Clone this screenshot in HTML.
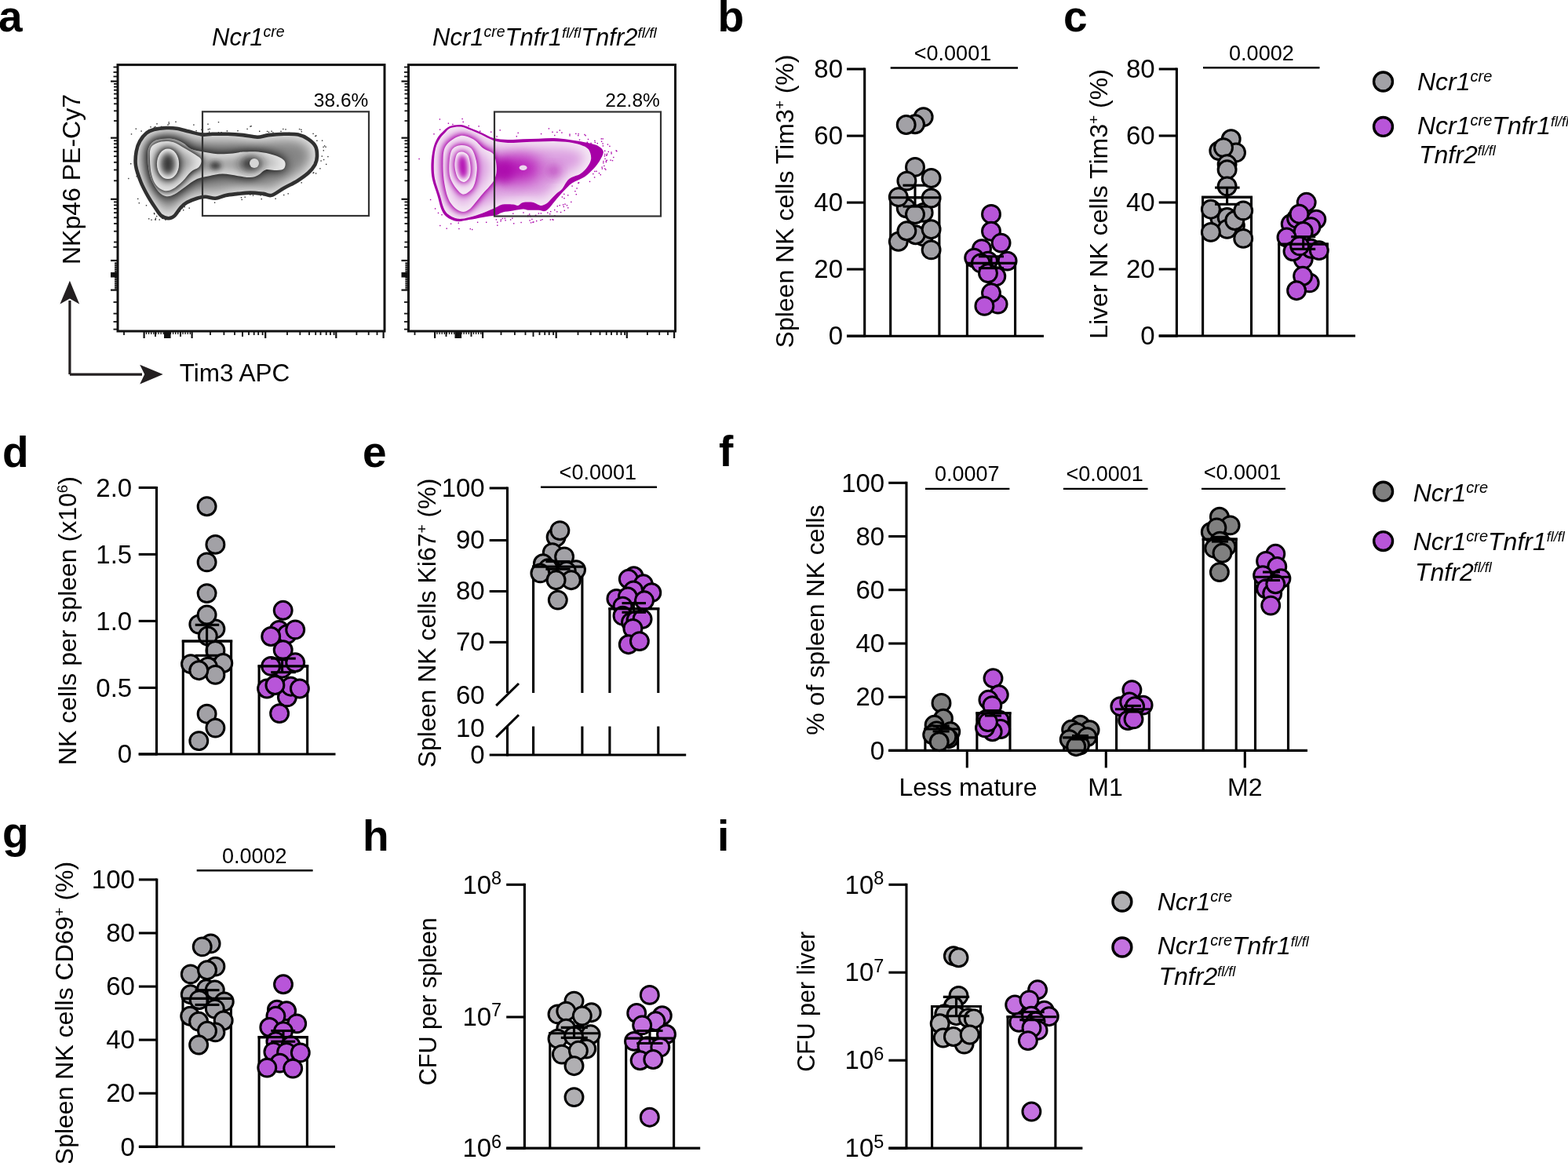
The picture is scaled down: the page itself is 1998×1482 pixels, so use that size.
<!DOCTYPE html>
<html><head><meta charset="utf-8"><title>Figure</title>
<style>
html,body{margin:0;padding:0;background:#fff;}
body{width:1998px;height:1482px;overflow:hidden;}
svg{display:block;}
text{font-family:"Liberation Sans",Arial,Helvetica,sans-serif;fill:#000;}
</style></head><body>
<svg width="1998" height="1482" viewBox="0 0 1998 1482">
<rect width="1998" height="1482" fill="#fff"/>
<defs>
<filter id="gbase" x="-10%" y="-10%" width="120%" height="120%" color-interpolation-filters="sRGB"><feGaussianBlur in="SourceAlpha" stdDeviation="10"/><feComponentTransfer><feFuncA type="gamma" amplitude="1" exponent="2.6" offset="0"/></feComponentTransfer><feColorMatrix type="matrix" values="0 0 0 -0.3952 0.9152  0 0 0 -0.3952 0.9152  0 0 0 -0.3952 0.9152  0 0 0 0 1"/><feComposite in2="SourceAlpha" operator="in"/></filter>
<filter id="gcore" x="-10%" y="-10%" width="120%" height="120%" color-interpolation-filters="sRGB"><feGaussianBlur in="SourceAlpha" stdDeviation="6"/><feComponentTransfer><feFuncA type="gamma" amplitude="1" exponent="2.5" offset="0"/></feComponentTransfer><feColorMatrix type="matrix" values="0 0 0 -0.7774 0.9974  0 0 0 -0.7774 0.9974  0 0 0 -0.7774 0.9974  0 0 0 0 1"/><feComposite in2="SourceAlpha" operator="in"/></filter>
<filter id="pbase" x="-10%" y="-10%" width="120%" height="120%" color-interpolation-filters="sRGB"><feGaussianBlur in="SourceAlpha" stdDeviation="10"/><feComponentTransfer><feFuncA type="gamma" amplitude="1" exponent="3" offset="0"/></feComponentTransfer><feColorMatrix type="matrix" values="0 0 0 -0.1029 0.9629  0 0 0 -0.2971 0.9171  0 0 0 -0.0800 0.9600  0 0 0 0 1"/><feComposite in2="SourceAlpha" operator="in"/></filter>
<filter id="pcore" x="-10%" y="-10%" width="120%" height="120%" color-interpolation-filters="sRGB"><feGaussianBlur in="SourceAlpha" stdDeviation="5"/><feComponentTransfer><feFuncA type="gamma" amplitude="1" exponent="2.5" offset="0"/></feComponentTransfer><feColorMatrix type="matrix" values="0 0 0 -0.3037 1.0037  0 0 0 -1.0082 1.0582  0 0 0 -0.3037 1.0037  0 0 0 0 1"/><feComposite in2="SourceAlpha" operator="in"/></filter>
<filter id="ghalo" x="-30%" y="-30%" width="160%" height="160%" color-interpolation-filters="sRGB"><feGaussianBlur in="SourceAlpha" stdDeviation="7"/><feComponentTransfer><feFuncA type="linear" slope="1.8" intercept="0"/></feComponentTransfer><feColorMatrix type="matrix" values="0 0 0 0 0.17  0 0 0 0 0.17  0 0 0 0 0.17  0 0 0 0.95 0"/></filter>
<filter id="ghalo2" x="-30%" y="-30%" width="160%" height="160%" color-interpolation-filters="sRGB"><feGaussianBlur in="SourceAlpha" stdDeviation="5"/><feComponentTransfer><feFuncA type="linear" slope="1.8" intercept="0"/></feComponentTransfer><feColorMatrix type="matrix" values="0 0 0 0 0.18  0 0 0 0 0.18  0 0 0 0 0.18  0 0 0 0.92 0"/></filter>
<filter id="phalo" x="-30%" y="-30%" width="160%" height="160%" color-interpolation-filters="sRGB"><feGaussianBlur in="SourceAlpha" stdDeviation="5"/><feComponentTransfer><feFuncA type="linear" slope="1.7" intercept="0"/></feComponentTransfer><feColorMatrix type="matrix" values="0 0 0 0 0.66  0 0 0 0 0.0  0 0 0 0 0.66  0 0 0 0.95 0"/></filter>
<filter id="phalo2" x="-30%" y="-30%" width="160%" height="160%" color-interpolation-filters="sRGB"><feGaussianBlur in="SourceAlpha" stdDeviation="4"/><feComponentTransfer><feFuncA type="linear" slope="1.6" intercept="0"/></feComponentTransfer><feColorMatrix type="matrix" values="0 0 0 0 0.66  0 0 0 0 0.0  0 0 0 0 0.66  0 0 0 0.9 0"/></filter>
<filter id="bl6" x="-50%" y="-50%" width="200%" height="200%"><feGaussianBlur stdDeviation="6"/></filter>
<filter id="bl10" x="-50%" y="-50%" width="200%" height="200%"><feGaussianBlur stdDeviation="10"/></filter>
<filter id="bl3" x="-50%" y="-50%" width="200%" height="200%"><feGaussianBlur stdDeviation="3"/></filter>
</defs>
<clipPath id="cO1"><path d="M186.7,169.5 C189.7,167.0 192.2,166.0 196.4,165.0 C200.7,163.9 207.3,163.2 212.0,163.0 C216.8,162.8 220.3,162.9 225.1,163.7 C229.8,164.4 235.3,166.3 240.7,167.6 C246.1,168.9 252.6,170.9 257.6,171.5 C262.6,172.0 265.2,170.9 270.6,170.8 C276.0,170.7 283.6,170.6 290.1,170.8 C296.6,171.0 303.4,171.5 309.6,172.1 C315.9,172.8 322.4,174.7 327.9,174.7 C333.3,174.7 336.5,172.8 342.2,172.1 C347.8,171.5 355.4,170.9 361.7,170.8 C368.0,170.7 374.7,170.4 379.9,171.5 C385.1,172.6 389.2,174.8 392.9,177.3 C396.6,179.8 400.2,182.7 402.0,186.4 C403.9,190.1 404.1,195.5 404.0,199.4 C403.9,203.4 403.2,206.4 401.4,209.9 C399.5,213.3 396.7,216.8 392.9,220.3 C389.1,223.7 383.8,227.4 378.6,230.7 C373.4,233.9 367.1,236.7 361.7,239.8 C356.3,242.8 350.4,247.7 346.1,248.9 C341.7,250.1 340.2,247.5 335.7,246.9 C331.1,246.4 324.2,245.6 318.8,245.6 C313.3,245.6 308.3,246.4 303.1,246.9 C297.9,247.5 292.3,247.9 287.5,248.9 C282.7,249.9 278.8,252.5 274.5,252.8 C270.2,253.1 265.4,250.8 261.5,250.8 C257.6,250.8 255.0,251.6 251.1,252.8 C247.2,254.0 241.5,256.1 238.1,258.0 C234.6,260.0 232.9,261.7 230.3,264.5 C227.7,267.3 225.1,272.6 222.5,274.9 C219.9,277.2 217.5,278.2 214.7,278.2 C211.8,278.2 208.4,277.2 205.5,274.9 C202.7,272.6 200.6,268.6 197.7,264.5 C194.9,260.4 191.7,255.6 188.6,250.2 C185.6,244.8 182.1,238.5 179.5,232.0 C176.9,225.5 174.0,217.7 173.0,211.2 C172.0,204.7 172.8,198.1 173.7,192.9 C174.5,187.7 176.0,183.8 178.2,179.9 C180.4,176.0 183.6,172.0 186.7,169.5Z"/></clipPath><clipPath id="cL2"><path d="M189.3,189.0 C191.0,184.0 194.2,180.7 199.0,178.6 C203.9,176.6 212.9,176.1 218.6,176.7 C224.2,177.2 228.7,179.7 232.9,181.9 C237.0,184.0 238.9,187.7 243.3,189.7 C247.6,191.6 253.3,192.5 258.9,193.6 C264.5,194.7 270.8,195.9 277.1,196.2 C283.4,196.5 291.2,196.0 296.6,195.5 C302.1,195.1 304.2,193.9 309.6,193.6 C315.1,193.3 322.7,192.9 329.2,193.6 C335.7,194.2 343.4,195.9 348.7,197.5 C354.0,199.1 358.5,201.3 361.0,203.4 C363.5,205.4 363.8,207.8 363.6,209.9 C363.5,211.9 362.7,214.5 360.4,215.7 C358.1,216.9 353.7,216.9 350.0,217.0 C346.3,217.1 341.7,215.4 338.3,216.4 C334.8,217.3 332.4,221.2 329.2,222.9 C325.9,224.5 323.1,225.9 318.8,226.1 C314.4,226.3 309.0,224.9 303.1,224.2 C297.3,223.4 289.7,221.6 283.6,221.6 C277.5,221.6 272.1,223.1 266.7,224.2 C261.3,225.3 256.3,225.7 251.1,228.1 C245.9,230.5 240.2,235.2 235.5,238.5 C230.7,241.7 226.4,245.6 222.5,247.6 C218.6,249.5 215.5,250.8 212.0,250.2 C208.6,249.5 204.9,247.4 201.6,243.7 C198.4,240.0 194.7,233.9 192.5,228.1 C190.4,222.2 189.2,215.1 188.6,208.6 C188.1,202.0 187.5,194.0 189.3,189.0Z"/></clipPath><clipPath id="cL3"><path d="M192.5,187.7 C195.0,183.7 200.8,181.7 205.5,180.6 C210.3,179.5 216.2,179.8 221.2,181.2 C226.1,182.6 230.9,186.4 235.5,189.0 C240.0,191.6 245.0,194.5 248.5,196.8 C252.0,199.2 255.4,200.7 256.3,203.4 C257.2,206.0 255.9,209.9 253.7,212.5 C251.5,215.1 246.7,215.9 243.3,219.0 C239.8,222.0 236.8,227.0 232.9,230.7 C229.0,234.4 223.8,239.0 219.9,241.1 C216.0,243.1 212.9,243.9 209.4,243.0 C206.0,242.2 201.7,239.2 199.0,235.9 C196.3,232.5 194.5,228.1 193.2,222.9 C191.8,217.7 191.1,210.5 191.0,204.7 C190.9,198.8 190.1,191.7 192.5,187.7Z"/></clipPath>
<path d="M186.7,169.5 C189.7,167.0 192.2,166.0 196.4,165.0 C200.7,163.9 207.3,163.2 212.0,163.0 C216.8,162.8 220.3,162.9 225.1,163.7 C229.8,164.4 235.3,166.3 240.7,167.6 C246.1,168.9 252.6,170.9 257.6,171.5 C262.6,172.0 265.2,170.9 270.6,170.8 C276.0,170.7 283.6,170.6 290.1,170.8 C296.6,171.0 303.4,171.5 309.6,172.1 C315.9,172.8 322.4,174.7 327.9,174.7 C333.3,174.7 336.5,172.8 342.2,172.1 C347.8,171.5 355.4,170.9 361.7,170.8 C368.0,170.7 374.7,170.4 379.9,171.5 C385.1,172.6 389.2,174.8 392.9,177.3 C396.6,179.8 400.2,182.7 402.0,186.4 C403.9,190.1 404.1,195.5 404.0,199.4 C403.9,203.4 403.2,206.4 401.4,209.9 C399.5,213.3 396.7,216.8 392.9,220.3 C389.1,223.7 383.8,227.4 378.6,230.7 C373.4,233.9 367.1,236.7 361.7,239.8 C356.3,242.8 350.4,247.7 346.1,248.9 C341.7,250.1 340.2,247.5 335.7,246.9 C331.1,246.4 324.2,245.6 318.8,245.6 C313.3,245.6 308.3,246.4 303.1,246.9 C297.9,247.5 292.3,247.9 287.5,248.9 C282.7,249.9 278.8,252.5 274.5,252.8 C270.2,253.1 265.4,250.8 261.5,250.8 C257.6,250.8 255.0,251.6 251.1,252.8 C247.2,254.0 241.5,256.1 238.1,258.0 C234.6,260.0 232.9,261.7 230.3,264.5 C227.7,267.3 225.1,272.6 222.5,274.9 C219.9,277.2 217.5,278.2 214.7,278.2 C211.8,278.2 208.4,277.2 205.5,274.9 C202.7,272.6 200.6,268.6 197.7,264.5 C194.9,260.4 191.7,255.6 188.6,250.2 C185.6,244.8 182.1,238.5 179.5,232.0 C176.9,225.5 174.0,217.7 173.0,211.2 C172.0,204.7 172.8,198.1 173.7,192.9 C174.5,187.7 176.0,183.8 178.2,179.9 C180.4,176.0 183.6,172.0 186.7,169.5Z" fill="#000" filter="url(#gbase)"/>
<g clip-path="url(#cO1)"><path d="M189.3,189.0 C191.0,184.0 194.2,180.7 199.0,178.6 C203.9,176.6 212.9,176.1 218.6,176.7 C224.2,177.2 228.7,179.7 232.9,181.9 C237.0,184.0 238.9,187.7 243.3,189.7 C247.6,191.6 253.3,192.5 258.9,193.6 C264.5,194.7 270.8,195.9 277.1,196.2 C283.4,196.5 291.2,196.0 296.6,195.5 C302.1,195.1 304.2,193.9 309.6,193.6 C315.1,193.3 322.7,192.9 329.2,193.6 C335.7,194.2 343.4,195.9 348.7,197.5 C354.0,199.1 358.5,201.3 361.0,203.4 C363.5,205.4 363.8,207.8 363.6,209.9 C363.5,211.9 362.7,214.5 360.4,215.7 C358.1,216.9 353.7,216.9 350.0,217.0 C346.3,217.1 341.7,215.4 338.3,216.4 C334.8,217.3 332.4,221.2 329.2,222.9 C325.9,224.5 323.1,225.9 318.8,226.1 C314.4,226.3 309.0,224.9 303.1,224.2 C297.3,223.4 289.7,221.6 283.6,221.6 C277.5,221.6 272.1,223.1 266.7,224.2 C261.3,225.3 256.3,225.7 251.1,228.1 C245.9,230.5 240.2,235.2 235.5,238.5 C230.7,241.7 226.4,245.6 222.5,247.6 C218.6,249.5 215.5,250.8 212.0,250.2 C208.6,249.5 204.9,247.4 201.6,243.7 C198.4,240.0 194.7,233.9 192.5,228.1 C190.4,222.2 189.2,215.1 188.6,208.6 C188.1,202.0 187.5,194.0 189.3,189.0Z" fill="#000" filter="url(#ghalo)"/></g>
<path d="M189.3,189.0 C191.0,184.0 194.2,180.7 199.0,178.6 C203.9,176.6 212.9,176.1 218.6,176.7 C224.2,177.2 228.7,179.7 232.9,181.9 C237.0,184.0 238.9,187.7 243.3,189.7 C247.6,191.6 253.3,192.5 258.9,193.6 C264.5,194.7 270.8,195.9 277.1,196.2 C283.4,196.5 291.2,196.0 296.6,195.5 C302.1,195.1 304.2,193.9 309.6,193.6 C315.1,193.3 322.7,192.9 329.2,193.6 C335.7,194.2 343.4,195.9 348.7,197.5 C354.0,199.1 358.5,201.3 361.0,203.4 C363.5,205.4 363.8,207.8 363.6,209.9 C363.5,211.9 362.7,214.5 360.4,215.7 C358.1,216.9 353.7,216.9 350.0,217.0 C346.3,217.1 341.7,215.4 338.3,216.4 C334.8,217.3 332.4,221.2 329.2,222.9 C325.9,224.5 323.1,225.9 318.8,226.1 C314.4,226.3 309.0,224.9 303.1,224.2 C297.3,223.4 289.7,221.6 283.6,221.6 C277.5,221.6 272.1,223.1 266.7,224.2 C261.3,225.3 256.3,225.7 251.1,228.1 C245.9,230.5 240.2,235.2 235.5,238.5 C230.7,241.7 226.4,245.6 222.5,247.6 C218.6,249.5 215.5,250.8 212.0,250.2 C208.6,249.5 204.9,247.4 201.6,243.7 C198.4,240.0 194.7,233.9 192.5,228.1 C190.4,222.2 189.2,215.1 188.6,208.6 C188.1,202.0 187.5,194.0 189.3,189.0Z" fill="#000" filter="url(#gbase)"/>
<g clip-path="url(#cL2)"><ellipse cx="274.5" cy="211.2" rx="7" ry="5" fill="#202020" opacity="0.85" filter="url(#bl3)"/><ellipse cx="320.1" cy="208.6" rx="13" ry="9" fill="#202020" opacity="0.9" filter="url(#bl6)"/><path d="M192.5,187.7 C195.0,183.7 200.8,181.7 205.5,180.6 C210.3,179.5 216.2,179.8 221.2,181.2 C226.1,182.6 230.9,186.4 235.5,189.0 C240.0,191.6 245.0,194.5 248.5,196.8 C252.0,199.2 255.4,200.7 256.3,203.4 C257.2,206.0 255.9,209.9 253.7,212.5 C251.5,215.1 246.7,215.9 243.3,219.0 C239.8,222.0 236.8,227.0 232.9,230.7 C229.0,234.4 223.8,239.0 219.9,241.1 C216.0,243.1 212.9,243.9 209.4,243.0 C206.0,242.2 201.7,239.2 199.0,235.9 C196.3,232.5 194.5,228.1 193.2,222.9 C191.8,217.7 191.1,210.5 191.0,204.7 C190.9,198.8 190.1,191.7 192.5,187.7Z" fill="#000" filter="url(#ghalo2)"/></g>
<path d="M192.5,187.7 C195.0,183.7 200.8,181.7 205.5,180.6 C210.3,179.5 216.2,179.8 221.2,181.2 C226.1,182.6 230.9,186.4 235.5,189.0 C240.0,191.6 245.0,194.5 248.5,196.8 C252.0,199.2 255.4,200.7 256.3,203.4 C257.2,206.0 255.9,209.9 253.7,212.5 C251.5,215.1 246.7,215.9 243.3,219.0 C239.8,222.0 236.8,227.0 232.9,230.7 C229.0,234.4 223.8,239.0 219.9,241.1 C216.0,243.1 212.9,243.9 209.4,243.0 C206.0,242.2 201.7,239.2 199.0,235.9 C196.3,232.5 194.5,228.1 193.2,222.9 C191.8,217.7 191.1,210.5 191.0,204.7 C190.9,198.8 190.1,191.7 192.5,187.7Z" fill="#000" filter="url(#gbase)"/>
<g clip-path="url(#cL3)"><ellipse cx="214.0" cy="208.8" rx="14.1" ry="19.3" fill="#000" filter="url(#ghalo2)"/></g>
<ellipse cx="214.0" cy="208.8" rx="14.1" ry="19.3" fill="#000" filter="url(#gcore)"/>
<circle cx="324.0" cy="207.9" r="6" fill="#d6d6d6"/>
<path d="M186.7,169.5 C189.7,167.0 192.2,166.0 196.4,165.0 C200.7,163.9 207.3,163.2 212.0,163.0 C216.8,162.8 220.3,162.9 225.1,163.7 C229.8,164.4 235.3,166.3 240.7,167.6 C246.1,168.9 252.6,170.9 257.6,171.5 C262.6,172.0 265.2,170.9 270.6,170.8 C276.0,170.7 283.6,170.6 290.1,170.8 C296.6,171.0 303.4,171.5 309.6,172.1 C315.9,172.8 322.4,174.7 327.9,174.7 C333.3,174.7 336.5,172.8 342.2,172.1 C347.8,171.5 355.4,170.9 361.7,170.8 C368.0,170.7 374.7,170.4 379.9,171.5 C385.1,172.6 389.2,174.8 392.9,177.3 C396.6,179.8 400.2,182.7 402.0,186.4 C403.9,190.1 404.1,195.5 404.0,199.4 C403.9,203.4 403.2,206.4 401.4,209.9 C399.5,213.3 396.7,216.8 392.9,220.3 C389.1,223.7 383.8,227.4 378.6,230.7 C373.4,233.9 367.1,236.7 361.7,239.8 C356.3,242.8 350.4,247.7 346.1,248.9 C341.7,250.1 340.2,247.5 335.7,246.9 C331.1,246.4 324.2,245.6 318.8,245.6 C313.3,245.6 308.3,246.4 303.1,246.9 C297.9,247.5 292.3,247.9 287.5,248.9 C282.7,249.9 278.8,252.5 274.5,252.8 C270.2,253.1 265.4,250.8 261.5,250.8 C257.6,250.8 255.0,251.6 251.1,252.8 C247.2,254.0 241.5,256.1 238.1,258.0 C234.6,260.0 232.9,261.7 230.3,264.5 C227.7,267.3 225.1,272.6 222.5,274.9 C219.9,277.2 217.5,278.2 214.7,278.2 C211.8,278.2 208.4,277.2 205.5,274.9 C202.7,272.6 200.6,268.6 197.7,264.5 C194.9,260.4 191.7,255.6 188.6,250.2 C185.6,244.8 182.1,238.5 179.5,232.0 C176.9,225.5 174.0,217.7 173.0,211.2 C172.0,204.7 172.8,198.1 173.7,192.9 C174.5,187.7 176.0,183.8 178.2,179.9 C180.4,176.0 183.6,172.0 186.7,169.5Z" fill="none" stroke="#303030" stroke-width="4.6"/>
<clipPath id="cP2"><path d="M574.2,163.0 C577.7,161.7 583.4,161.1 587.3,161.5 C591.2,161.8 593.3,163.3 597.7,165.0 C602.0,166.6 608.1,169.1 613.3,171.5 C618.5,173.8 623.3,177.2 628.9,178.9 C634.5,180.6 640.8,181.5 647.1,181.9 C653.4,182.3 660.1,181.4 666.6,181.2 C673.1,181.0 679.6,180.8 686.1,180.6 C692.7,180.4 699.2,179.8 705.7,179.9 C712.2,180.0 719.5,180.5 725.2,181.2 C730.8,182.0 735.4,183.0 739.5,184.5 C743.6,186.0 747.6,187.4 749.9,190.3 C752.2,193.3 753.4,198.4 753.2,202.0 C752.9,205.7 750.9,209.2 748.6,212.5 C746.3,215.7 743.4,219.0 739.5,221.6 C735.6,224.2 729.1,224.8 725.2,228.1 C721.3,231.3 718.7,238.1 716.1,241.1 C713.5,244.1 711.7,244.3 709.6,246.3 C707.4,248.2 705.2,250.6 703.1,252.8 C700.9,255.0 698.9,257.8 696.6,259.3 C694.2,260.8 691.6,262.1 688.8,261.9 C685.9,261.7 683.3,258.7 679.6,258.0 C676.0,257.4 669.9,257.4 666.6,258.0 C663.4,258.7 662.3,261.5 660.1,261.9 C658.0,262.3 656.9,260.8 653.6,260.6 C650.4,260.4 644.3,260.0 640.6,260.6 C636.9,261.3 635.8,262.7 631.5,264.5 C627.2,266.4 620.2,269.6 614.6,271.7 C608.9,273.7 602.9,275.7 597.7,276.9 C592.5,278.1 587.7,279.4 583.4,278.8 C579.0,278.3 574.6,275.9 571.6,273.6 C568.6,271.3 567.2,269.3 565.4,265.2 C563.6,261.0 562.5,255.1 560.6,248.9 C558.7,242.7 555.4,234.8 554.1,228.1 C552.8,221.4 552.6,215.1 552.8,208.6 C552.9,202.0 553.7,194.2 555.0,189.0 C556.2,183.8 558.2,180.6 560.2,177.3 C562.1,174.1 564.4,171.9 566.7,169.5 C569.0,167.1 570.8,164.4 574.2,163.0Z"/></clipPath><clipPath id="cP3"><path d="M564.5,208.6 C564.7,200.5 564.2,192.3 567.7,186.4 C571.3,180.5 580.1,174.7 586.0,173.2 C591.8,171.6 597.9,174.7 602.9,177.3 C607.9,180.0 611.5,185.8 615.9,189.0 C620.2,192.3 626.1,192.5 628.9,196.8 C631.7,201.2 632.8,209.4 632.8,215.1 C632.8,220.7 632.1,225.0 628.9,230.7 C625.6,236.3 618.5,242.8 613.3,248.9 C608.1,255.0 602.2,263.7 597.7,267.1 C593.1,270.5 590.1,270.8 586.0,269.1 C581.8,267.3 576.2,262.4 572.9,256.7 C569.7,251.0 567.8,242.6 566.4,234.6 C565.0,226.6 564.3,216.6 564.5,208.6Z"/></clipPath><clipPath id="cP4"><path d="M572.3,212.5 C572.5,206.4 573.0,196.2 575.5,191.6 C578.0,187.1 583.1,185.6 587.3,185.1 C591.4,184.7 597.0,185.8 600.3,189.0 C603.5,192.3 605.6,199.4 606.8,204.7 C608.0,209.9 608.1,214.6 607.4,220.3 C606.8,225.9 605.6,233.9 602.9,238.5 C600.2,243.0 594.6,247.2 591.2,247.6 C587.7,248.0 584.9,244.3 582.0,241.1 C579.2,237.8 575.9,232.8 574.2,228.1 C572.6,223.3 572.1,218.5 572.3,212.5Z"/></clipPath>
<path d="M572.9,161.1 C576.8,159.5 582.9,158.8 587.3,159.1 C591.6,159.4 594.4,161.3 599.0,163.0 C603.5,164.7 609.6,167.3 614.6,169.5 C619.6,171.7 623.5,174.6 628.9,176.0 C634.3,177.4 640.8,177.8 647.1,178.0 C653.4,178.2 660.1,177.5 666.6,177.3 C673.1,177.1 679.6,176.9 686.1,176.7 C692.7,176.5 699.2,175.8 705.7,176.0 C712.2,176.2 718.7,177.1 725.2,178.0 C731.7,178.8 738.8,180.0 744.7,181.2 C750.6,182.4 756.3,183.2 760.3,185.1 C764.3,187.1 768.1,189.7 768.8,192.9 C769.4,196.2 766.3,201.0 764.2,204.7 C762.2,208.3 759.7,211.6 756.4,215.1 C753.2,218.5 749.3,222.4 744.7,225.5 C740.1,228.5 733.4,230.4 729.1,233.3 C724.8,236.2 721.5,240.2 718.7,243.0 C715.9,245.9 714.3,247.7 712.2,250.2 C710.0,252.7 707.8,255.4 705.7,258.0 C703.5,260.6 701.1,264.0 699.2,265.8 C697.2,267.7 696.1,268.7 694.0,269.1 C691.8,269.4 689.6,268.0 686.1,267.8 C682.7,267.5 676.4,268.0 673.1,267.8 C669.9,267.5 669.9,266.4 666.6,266.5 C663.4,266.6 658.0,267.8 653.6,268.4 C649.3,269.1 644.3,269.4 640.6,270.4 C636.9,271.3 635.8,273.2 631.5,274.3 C627.2,275.4 620.2,275.9 614.6,276.9 C608.9,277.8 603.1,279.3 597.7,280.1 C592.2,281.0 586.8,282.7 582.0,282.1 C577.3,281.4 572.3,278.7 569.0,276.2 C565.8,273.7 564.5,271.7 562.5,267.1 C560.6,262.6 559.3,255.4 557.3,248.9 C555.4,242.4 552.1,234.8 550.8,228.1 C549.5,221.4 549.3,215.1 549.5,208.6 C549.7,202.0 550.8,194.5 552.1,189.0 C553.4,183.6 555.4,179.5 557.3,176.0 C559.3,172.6 561.2,170.7 563.8,168.2 C566.4,165.7 569.0,162.6 572.9,161.1Z" fill="#a600a6"/>
<path d="M574.2,163.0 C577.7,161.7 583.4,161.1 587.3,161.5 C591.2,161.8 593.3,163.3 597.7,165.0 C602.0,166.6 608.1,169.1 613.3,171.5 C618.5,173.8 623.3,177.2 628.9,178.9 C634.5,180.6 640.8,181.5 647.1,181.9 C653.4,182.3 660.1,181.4 666.6,181.2 C673.1,181.0 679.6,180.8 686.1,180.6 C692.7,180.4 699.2,179.8 705.7,179.9 C712.2,180.0 719.5,180.5 725.2,181.2 C730.8,182.0 735.4,183.0 739.5,184.5 C743.6,186.0 747.6,187.4 749.9,190.3 C752.2,193.3 753.4,198.4 753.2,202.0 C752.9,205.7 750.9,209.2 748.6,212.5 C746.3,215.7 743.4,219.0 739.5,221.6 C735.6,224.2 729.1,224.8 725.2,228.1 C721.3,231.3 718.7,238.1 716.1,241.1 C713.5,244.1 711.7,244.3 709.6,246.3 C707.4,248.2 705.2,250.6 703.1,252.8 C700.9,255.0 698.9,257.8 696.6,259.3 C694.2,260.8 691.6,262.1 688.8,261.9 C685.9,261.7 683.3,258.7 679.6,258.0 C676.0,257.4 669.9,257.4 666.6,258.0 C663.4,258.7 662.3,261.5 660.1,261.9 C658.0,262.3 656.9,260.8 653.6,260.6 C650.4,260.4 644.3,260.0 640.6,260.6 C636.9,261.3 635.8,262.7 631.5,264.5 C627.2,266.4 620.2,269.6 614.6,271.7 C608.9,273.7 602.9,275.7 597.7,276.9 C592.5,278.1 587.7,279.4 583.4,278.8 C579.0,278.3 574.6,275.9 571.6,273.6 C568.6,271.3 567.2,269.3 565.4,265.2 C563.6,261.0 562.5,255.1 560.6,248.9 C558.7,242.7 555.4,234.8 554.1,228.1 C552.8,221.4 552.6,215.1 552.8,208.6 C552.9,202.0 553.7,194.2 555.0,189.0 C556.2,183.8 558.2,180.6 560.2,177.3 C562.1,174.1 564.4,171.9 566.7,169.5 C569.0,167.1 570.8,164.4 574.2,163.0Z" fill="#000" filter="url(#pbase)"/>
<g clip-path="url(#cP2)"><ellipse cx="660.1" cy="215.1" rx="30" ry="17" fill="#b000b0" opacity="0.85" filter="url(#bl10)"/><ellipse cx="640.6" cy="217.7" rx="14" ry="16" fill="#a800a8" opacity="0.8" filter="url(#bl6)"/><ellipse cx="705.7" cy="217.7" rx="9" ry="8" fill="#b020b0" opacity="0.6" filter="url(#bl6)"/><path d="M564.5,208.6 C564.7,200.5 564.2,192.3 567.7,186.4 C571.3,180.5 580.1,174.7 586.0,173.2 C591.8,171.6 597.9,174.7 602.9,177.3 C607.9,180.0 611.5,185.8 615.9,189.0 C620.2,192.3 626.1,192.5 628.9,196.8 C631.7,201.2 632.8,209.4 632.8,215.1 C632.8,220.7 632.1,225.0 628.9,230.7 C625.6,236.3 618.5,242.8 613.3,248.9 C608.1,255.0 602.2,263.7 597.7,267.1 C593.1,270.5 590.1,270.8 586.0,269.1 C581.8,267.3 576.2,262.4 572.9,256.7 C569.7,251.0 567.8,242.6 566.4,234.6 C565.0,226.6 564.3,216.6 564.5,208.6Z" fill="#000" filter="url(#phalo)"/></g>
<path d="M564.5,208.6 C564.7,200.5 564.2,192.3 567.7,186.4 C571.3,180.5 580.1,174.7 586.0,173.2 C591.8,171.6 597.9,174.7 602.9,177.3 C607.9,180.0 611.5,185.8 615.9,189.0 C620.2,192.3 626.1,192.5 628.9,196.8 C631.7,201.2 632.8,209.4 632.8,215.1 C632.8,220.7 632.1,225.0 628.9,230.7 C625.6,236.3 618.5,242.8 613.3,248.9 C608.1,255.0 602.2,263.7 597.7,267.1 C593.1,270.5 590.1,270.8 586.0,269.1 C581.8,267.3 576.2,262.4 572.9,256.7 C569.7,251.0 567.8,242.6 566.4,234.6 C565.0,226.6 564.3,216.6 564.5,208.6Z" fill="#000" filter="url(#pbase)"/>
<g clip-path="url(#cP3)"><path d="M572.3,212.5 C572.5,206.4 573.0,196.2 575.5,191.6 C578.0,187.1 583.1,185.6 587.3,185.1 C591.4,184.7 597.0,185.8 600.3,189.0 C603.5,192.3 605.6,199.4 606.8,204.7 C608.0,209.9 608.1,214.6 607.4,220.3 C606.8,225.9 605.6,233.9 602.9,238.5 C600.2,243.0 594.6,247.2 591.2,247.6 C587.7,248.0 584.9,244.3 582.0,241.1 C579.2,237.8 575.9,232.8 574.2,228.1 C572.6,223.3 572.1,218.5 572.3,212.5Z" fill="#000" filter="url(#phalo2)"/></g>
<path d="M572.3,212.5 C572.5,206.4 573.0,196.2 575.5,191.6 C578.0,187.1 583.1,185.6 587.3,185.1 C591.4,184.7 597.0,185.8 600.3,189.0 C603.5,192.3 605.6,199.4 606.8,204.7 C608.0,209.9 608.1,214.6 607.4,220.3 C606.8,225.9 605.6,233.9 602.9,238.5 C600.2,243.0 594.6,247.2 591.2,247.6 C587.7,248.0 584.9,244.3 582.0,241.1 C579.2,237.8 575.9,232.8 574.2,228.1 C572.6,223.3 572.1,218.5 572.3,212.5Z" fill="#000" filter="url(#pbase)"/>
<g clip-path="url(#cP4)"><path d="M579.4,211.2 C579.2,206.2 580.5,199.8 582.0,196.8 C583.6,193.9 586.2,193.4 588.6,193.6 C590.9,193.8 594.5,195.0 596.4,198.1 C598.2,201.3 599.3,207.9 599.6,212.5 C599.9,217.0 599.7,222.2 598.3,225.5 C596.9,228.7 593.7,231.8 591.2,232.0 C588.7,232.2 585.3,230.2 583.4,226.8 C581.4,223.3 579.7,216.1 579.4,211.2Z" fill="#000" filter="url(#phalo2)"/></g>
<path d="M579.4,211.2 C579.2,206.2 580.5,199.8 582.0,196.8 C583.6,193.9 586.2,193.4 588.6,193.6 C590.9,193.8 594.5,195.0 596.4,198.1 C598.2,201.3 599.3,207.9 599.6,212.5 C599.9,217.0 599.7,222.2 598.3,225.5 C596.9,228.7 593.7,231.8 591.2,232.0 C588.7,232.2 585.3,230.2 583.4,226.8 C581.4,223.3 579.7,216.1 579.4,211.2Z" fill="#000" filter="url(#pcore)"/>
<ellipse cx="666.6" cy="213.8" rx="5" ry="3.2" fill="#ecd8ee"/>
<rect x="338.5" y="248.4" width="1.4" height="1.4" fill="#333"/>
<rect x="197.7" y="277.5" width="1.4" height="1.4" fill="#333"/>
<rect x="417.2" y="198.9" width="1.4" height="1.4" fill="#333"/>
<rect x="314.4" y="163.7" width="1.4" height="1.4" fill="#333"/>
<rect x="223.3" y="154.6" width="1.4" height="1.4" fill="#333"/>
<rect x="213.3" y="158.3" width="1.4" height="1.4" fill="#333"/>
<rect x="175.0" y="252.7" width="1.4" height="1.4" fill="#333"/>
<rect x="367.7" y="168.8" width="1.4" height="1.4" fill="#333"/>
<rect x="281.4" y="168.0" width="1.4" height="1.4" fill="#333"/>
<rect x="409.9" y="178.5" width="1.4" height="1.4" fill="#333"/>
<rect x="221.4" y="275.1" width="1.4" height="1.4" fill="#333"/>
<rect x="383.6" y="167.1" width="1.4" height="1.4" fill="#333"/>
<rect x="185.8" y="261.1" width="1.4" height="1.4" fill="#333"/>
<rect x="179.4" y="166.4" width="1.4" height="1.4" fill="#333"/>
<rect x="335.3" y="248.1" width="1.4" height="1.4" fill="#333"/>
<rect x="246.2" y="158.4" width="1.4" height="1.4" fill="#333"/>
<rect x="350.4" y="252.5" width="1.4" height="1.4" fill="#333"/>
<rect x="225.7" y="269.4" width="1.4" height="1.4" fill="#333"/>
<rect x="321.8" y="248.4" width="1.4" height="1.4" fill="#333"/>
<rect x="302.3" y="166.0" width="1.4" height="1.4" fill="#333"/>
<rect x="411.9" y="202.8" width="1.4" height="1.4" fill="#333"/>
<rect x="363.3" y="164.2" width="1.4" height="1.4" fill="#333"/>
<rect x="234.5" y="263.0" width="1.4" height="1.4" fill="#333"/>
<rect x="311.5" y="250.5" width="1.4" height="1.4" fill="#333"/>
<rect x="257.6" y="166.6" width="1.4" height="1.4" fill="#333"/>
<rect x="202.5" y="279.3" width="1.4" height="1.4" fill="#333"/>
<rect x="341.8" y="167.7" width="1.4" height="1.4" fill="#333"/>
<rect x="330.0" y="166.6" width="1.4" height="1.4" fill="#333"/>
<rect x="173.5" y="224.1" width="1.4" height="1.4" fill="#333"/>
<rect x="272.9" y="257.5" width="1.4" height="1.4" fill="#333"/>
<rect x="347.2" y="170.1" width="1.4" height="1.4" fill="#333"/>
<rect x="166.0" y="208.0" width="1.4" height="1.4" fill="#333"/>
<rect x="191.3" y="161.1" width="1.4" height="1.4" fill="#333"/>
<rect x="401.9" y="220.3" width="1.4" height="1.4" fill="#333"/>
<rect x="223.7" y="272.4" width="1.4" height="1.4" fill="#333"/>
<rect x="332.5" y="252.9" width="1.4" height="1.4" fill="#333"/>
<rect x="199.3" y="157.1" width="1.4" height="1.4" fill="#333"/>
<rect x="264.6" y="164.2" width="1.4" height="1.4" fill="#333"/>
<rect x="357.3" y="166.7" width="1.4" height="1.4" fill="#333"/>
<rect x="192.3" y="279.5" width="1.4" height="1.4" fill="#333"/>
<rect x="402.1" y="172.2" width="1.4" height="1.4" fill="#333"/>
<rect x="414.4" y="186.6" width="1.4" height="1.4" fill="#333"/>
<rect x="204.9" y="160.7" width="1.4" height="1.4" fill="#333"/>
<rect x="172.6" y="163.5" width="1.4" height="1.4" fill="#333"/>
<rect x="306.8" y="251.0" width="1.4" height="1.4" fill="#333"/>
<rect x="411.6" y="191.1" width="1.4" height="1.4" fill="#333"/>
<rect x="266.5" y="163.7" width="1.4" height="1.4" fill="#333"/>
<rect x="398.4" y="169.7" width="1.4" height="1.4" fill="#333"/>
<rect x="265.9" y="167.4" width="1.4" height="1.4" fill="#333"/>
<rect x="345.4" y="166.6" width="1.4" height="1.4" fill="#333"/>
<rect x="318.0" y="247.4" width="1.4" height="1.4" fill="#333"/>
<rect x="228.5" y="268.3" width="1.4" height="1.4" fill="#333"/>
<rect x="195.8" y="161.6" width="1.4" height="1.4" fill="#333"/>
<rect x="197.4" y="279.2" width="1.4" height="1.4" fill="#333"/>
<rect x="339.9" y="166.8" width="1.4" height="1.4" fill="#333"/>
<rect x="288.7" y="166.2" width="1.4" height="1.4" fill="#333"/>
<rect x="214.7" y="157.0" width="1.4" height="1.4" fill="#333"/>
<rect x="196.0" y="272.0" width="1.4" height="1.4" fill="#333"/>
<rect x="189.0" y="278.1" width="1.4" height="1.4" fill="#333"/>
<rect x="398.4" y="219.7" width="1.4" height="1.4" fill="#333"/>
<rect x="231.4" y="264.8" width="1.4" height="1.4" fill="#333"/>
<rect x="249.4" y="166.0" width="1.4" height="1.4" fill="#333"/>
<rect x="347.2" y="168.3" width="1.4" height="1.4" fill="#333"/>
<rect x="399.0" y="219.3" width="1.4" height="1.4" fill="#333"/>
<rect x="277.8" y="155.0" width="1.4" height="1.4" fill="#333"/>
<rect x="411.4" y="186.7" width="1.4" height="1.4" fill="#333"/>
<rect x="331.3" y="248.2" width="1.4" height="1.4" fill="#333"/>
<rect x="307.5" y="253.7" width="1.4" height="1.4" fill="#333"/>
<rect x="197.3" y="160.9" width="1.4" height="1.4" fill="#333"/>
<rect x="409.6" y="198.4" width="1.4" height="1.4" fill="#333"/>
<rect x="214.5" y="155.2" width="1.4" height="1.4" fill="#333"/>
<rect x="407.2" y="214.1" width="1.4" height="1.4" fill="#333"/>
<rect x="206.2" y="277.7" width="1.4" height="1.4" fill="#333"/>
<rect x="383.1" y="164.6" width="1.4" height="1.4" fill="#333"/>
<rect x="264.3" y="157.5" width="1.4" height="1.4" fill="#333"/>
<rect x="243.8" y="166.9" width="1.4" height="1.4" fill="#333"/>
<rect x="319.4" y="160.0" width="1.4" height="1.4" fill="#333"/>
<rect x="360.1" y="163.8" width="1.4" height="1.4" fill="#333"/>
<rect x="361.0" y="247.8" width="1.4" height="1.4" fill="#333"/>
<rect x="380.9" y="163.9" width="1.4" height="1.4" fill="#333"/>
<rect x="415.0" y="208.7" width="1.4" height="1.4" fill="#333"/>
<rect x="233.0" y="267.0" width="1.4" height="1.4" fill="#333"/>
<rect x="199.0" y="274.9" width="1.4" height="1.4" fill="#333"/>
<rect x="401.1" y="172.8" width="1.4" height="1.4" fill="#333"/>
<rect x="318.3" y="160.5" width="1.4" height="1.4" fill="#333"/>
<rect x="240.5" y="264.5" width="1.4" height="1.4" fill="#333"/>
<rect x="195.8" y="271.0" width="1.4" height="1.4" fill="#333"/>
<rect x="383.5" y="232.1" width="1.4" height="1.4" fill="#333"/>
<rect x="163.1" y="226.8" width="1.4" height="1.4" fill="#333"/>
<rect x="403.2" y="178.6" width="1.4" height="1.4" fill="#333"/>
<rect x="408.4" y="204.3" width="1.4" height="1.4" fill="#333"/>
<rect x="256.2" y="164.6" width="1.4" height="1.4" fill="#333"/>
<rect x="366.5" y="246.1" width="1.4" height="1.4" fill="#333"/>
<rect x="176.6" y="258.0" width="1.4" height="1.4" fill="#333"/>
<rect x="166.8" y="170.2" width="1.4" height="1.4" fill="#333"/>
<rect x="335.1" y="171.5" width="1.4" height="1.4" fill="#333"/>
<rect x="197.3" y="279.1" width="1.4" height="1.4" fill="#333"/>
<rect x="412.9" y="185.2" width="1.4" height="1.4" fill="#333"/>
<rect x="277.8" y="168.1" width="1.4" height="1.4" fill="#333"/>
<rect x="210.1" y="279.4" width="1.4" height="1.4" fill="#333"/>
<rect x="547.9" y="253.8" width="1.4" height="1.4" fill="#a800a8"/>
<rect x="573.9" y="284.5" width="1.4" height="1.4" fill="#a800a8"/>
<rect x="771.7" y="205.8" width="1.4" height="1.4" fill="#a800a8"/>
<rect x="717.6" y="262.7" width="1.4" height="1.4" fill="#a800a8"/>
<rect x="636.5" y="165.2" width="1.4" height="1.4" fill="#a800a8"/>
<rect x="709.1" y="269.1" width="1.4" height="1.4" fill="#a800a8"/>
<rect x="769.2" y="210.7" width="1.4" height="1.4" fill="#a800a8"/>
<rect x="777.4" y="203.4" width="1.4" height="1.4" fill="#a800a8"/>
<rect x="733.6" y="247.0" width="1.4" height="1.4" fill="#a800a8"/>
<rect x="553.9" y="265.2" width="1.4" height="1.4" fill="#a800a8"/>
<rect x="633.1" y="286.5" width="1.4" height="1.4" fill="#a800a8"/>
<rect x="679.2" y="282.2" width="1.4" height="1.4" fill="#a800a8"/>
<rect x="715.7" y="250.3" width="1.4" height="1.4" fill="#a800a8"/>
<rect x="723.1" y="264.1" width="1.4" height="1.4" fill="#a800a8"/>
<rect x="619.0" y="282.6" width="1.4" height="1.4" fill="#a800a8"/>
<rect x="533.4" y="201.8" width="1.4" height="1.4" fill="#a800a8"/>
<rect x="700.7" y="279.3" width="1.4" height="1.4" fill="#a800a8"/>
<rect x="734.4" y="239.3" width="1.4" height="1.4" fill="#a800a8"/>
<rect x="688.7" y="271.2" width="1.4" height="1.4" fill="#a800a8"/>
<rect x="778.3" y="193.4" width="1.4" height="1.4" fill="#a800a8"/>
<rect x="705.9" y="274.4" width="1.4" height="1.4" fill="#a800a8"/>
<rect x="631.7" y="279.2" width="1.4" height="1.4" fill="#a800a8"/>
<rect x="677.2" y="278.7" width="1.4" height="1.4" fill="#a800a8"/>
<rect x="771.6" y="204.4" width="1.4" height="1.4" fill="#a800a8"/>
<rect x="736.9" y="232.1" width="1.4" height="1.4" fill="#a800a8"/>
<rect x="725.3" y="172.2" width="1.4" height="1.4" fill="#a800a8"/>
<rect x="698.7" y="163.2" width="1.4" height="1.4" fill="#a800a8"/>
<rect x="778.4" y="195.1" width="1.4" height="1.4" fill="#a800a8"/>
<rect x="727.1" y="256.7" width="1.4" height="1.4" fill="#a800a8"/>
<rect x="718.6" y="267.6" width="1.4" height="1.4" fill="#a800a8"/>
<rect x="637.7" y="279.2" width="1.4" height="1.4" fill="#a800a8"/>
<rect x="674.6" y="274.3" width="1.4" height="1.4" fill="#a800a8"/>
<rect x="772.9" y="195.4" width="1.4" height="1.4" fill="#a800a8"/>
<rect x="757.1" y="217.7" width="1.4" height="1.4" fill="#a800a8"/>
<rect x="772.6" y="203.6" width="1.4" height="1.4" fill="#a800a8"/>
<rect x="765.6" y="176.2" width="1.4" height="1.4" fill="#a800a8"/>
<rect x="607.9" y="282.6" width="1.4" height="1.4" fill="#a800a8"/>
<rect x="683.0" y="280.9" width="1.4" height="1.4" fill="#a800a8"/>
<rect x="672.2" y="273.8" width="1.4" height="1.4" fill="#a800a8"/>
<rect x="653.1" y="271.5" width="1.4" height="1.4" fill="#a800a8"/>
<rect x="703.4" y="278.9" width="1.4" height="1.4" fill="#a800a8"/>
<rect x="625.0" y="167.5" width="1.4" height="1.4" fill="#a800a8"/>
<rect x="736.4" y="170.0" width="1.4" height="1.4" fill="#a800a8"/>
<rect x="657.6" y="173.1" width="1.4" height="1.4" fill="#a800a8"/>
<rect x="637.4" y="281.1" width="1.4" height="1.4" fill="#a800a8"/>
<rect x="701.0" y="268.9" width="1.4" height="1.4" fill="#a800a8"/>
<rect x="632.4" y="173.3" width="1.4" height="1.4" fill="#a800a8"/>
<rect x="773.7" y="183.4" width="1.4" height="1.4" fill="#a800a8"/>
<rect x="706.1" y="171.8" width="1.4" height="1.4" fill="#a800a8"/>
<rect x="772.4" y="196.9" width="1.4" height="1.4" fill="#a800a8"/>
<rect x="712.5" y="261.0" width="1.4" height="1.4" fill="#a800a8"/>
<rect x="649.9" y="279.3" width="1.4" height="1.4" fill="#a800a8"/>
<rect x="611.0" y="166.5" width="1.4" height="1.4" fill="#a800a8"/>
<rect x="685.7" y="271.3" width="1.4" height="1.4" fill="#a800a8"/>
<rect x="770.1" y="214.2" width="1.4" height="1.4" fill="#a800a8"/>
<rect x="766.4" y="212.4" width="1.4" height="1.4" fill="#a800a8"/>
<rect x="674.0" y="272.3" width="1.4" height="1.4" fill="#a800a8"/>
<rect x="562.3" y="273.0" width="1.4" height="1.4" fill="#a800a8"/>
<rect x="643.4" y="280.1" width="1.4" height="1.4" fill="#a800a8"/>
<rect x="767.5" y="176.2" width="1.4" height="1.4" fill="#a800a8"/>
<rect x="713.9" y="269.8" width="1.4" height="1.4" fill="#a800a8"/>
<rect x="688.3" y="279.9" width="1.4" height="1.4" fill="#a800a8"/>
<rect x="671.9" y="274.9" width="1.4" height="1.4" fill="#a800a8"/>
<rect x="576.2" y="157.8" width="1.4" height="1.4" fill="#a800a8"/>
<rect x="583.5" y="283.5" width="1.4" height="1.4" fill="#a800a8"/>
<rect x="770.0" y="195.9" width="1.4" height="1.4" fill="#a800a8"/>
<rect x="765.9" y="179.6" width="1.4" height="1.4" fill="#a800a8"/>
<rect x="770.4" y="201.7" width="1.4" height="1.4" fill="#a800a8"/>
<rect x="639.7" y="277.8" width="1.4" height="1.4" fill="#a800a8"/>
<rect x="744.3" y="170.8" width="1.4" height="1.4" fill="#a800a8"/>
<rect x="706.0" y="266.9" width="1.4" height="1.4" fill="#a800a8"/>
<rect x="601.0" y="291.8" width="1.4" height="1.4" fill="#a800a8"/>
<rect x="652.2" y="277.5" width="1.4" height="1.4" fill="#a800a8"/>
<rect x="588.4" y="150.8" width="1.4" height="1.4" fill="#a800a8"/>
<rect x="697.1" y="270.4" width="1.4" height="1.4" fill="#a800a8"/>
<rect x="715.2" y="168.4" width="1.4" height="1.4" fill="#a800a8"/>
<rect x="760.6" y="182.0" width="1.4" height="1.4" fill="#a800a8"/>
<rect x="681.7" y="274.0" width="1.4" height="1.4" fill="#a800a8"/>
<rect x="718.3" y="252.0" width="1.4" height="1.4" fill="#a800a8"/>
<rect x="784.5" y="191.2" width="1.4" height="1.4" fill="#a800a8"/>
<rect x="704.2" y="279.5" width="1.4" height="1.4" fill="#a800a8"/>
<rect x="712.6" y="165.4" width="1.4" height="1.4" fill="#a800a8"/>
<rect x="642.7" y="277.7" width="1.4" height="1.4" fill="#a800a8"/>
<rect x="674.4" y="280.3" width="1.4" height="1.4" fill="#a800a8"/>
<rect x="716.9" y="260.2" width="1.4" height="1.4" fill="#a800a8"/>
<rect x="609.4" y="160.2" width="1.4" height="1.4" fill="#a800a8"/>
<rect x="709.6" y="262.0" width="1.4" height="1.4" fill="#a800a8"/>
<rect x="552.3" y="170.1" width="1.4" height="1.4" fill="#a800a8"/>
<rect x="568.5" y="290.5" width="1.4" height="1.4" fill="#a800a8"/>
<rect x="737.8" y="177.5" width="1.4" height="1.4" fill="#a800a8"/>
<rect x="718.1" y="246.7" width="1.4" height="1.4" fill="#a800a8"/>
<rect x="596.6" y="159.7" width="1.4" height="1.4" fill="#a800a8"/>
<rect x="747.6" y="180.6" width="1.4" height="1.4" fill="#a800a8"/>
<rect x="776.2" y="185.7" width="1.4" height="1.4" fill="#a800a8"/>
<rect x="560.1" y="286.8" width="1.4" height="1.4" fill="#a800a8"/>
<rect x="767.7" y="185.2" width="1.4" height="1.4" fill="#a800a8"/>
<rect x="732.2" y="243.0" width="1.4" height="1.4" fill="#a800a8"/>
<rect x="768.2" y="204.9" width="1.4" height="1.4" fill="#a800a8"/>
<rect x="736.1" y="232.6" width="1.4" height="1.4" fill="#a800a8"/>
<rect x="706.5" y="274.5" width="1.4" height="1.4" fill="#a800a8"/>
<rect x="755.1" y="220.9" width="1.4" height="1.4" fill="#a800a8"/>
<rect x="736.1" y="172.0" width="1.4" height="1.4" fill="#a800a8"/>
<rect x="752.4" y="181.7" width="1.4" height="1.4" fill="#a800a8"/>
<rect x="781.1" y="199.8" width="1.4" height="1.4" fill="#a800a8"/>
<rect x="666.3" y="270.3" width="1.4" height="1.4" fill="#a800a8"/>
<rect x="721.8" y="261.1" width="1.4" height="1.4" fill="#a800a8"/>
<rect x="768.1" y="206.9" width="1.4" height="1.4" fill="#a800a8"/>
<rect x="690.3" y="279.0" width="1.4" height="1.4" fill="#a800a8"/>
<rect x="589.5" y="154.7" width="1.4" height="1.4" fill="#a800a8"/>
<rect x="659.5" y="168.7" width="1.4" height="1.4" fill="#a800a8"/>
<rect x="762.8" y="220.0" width="1.4" height="1.4" fill="#a800a8"/>
<rect x="678.3" y="282.6" width="1.4" height="1.4" fill="#a800a8"/>
<rect x="756.9" y="225.3" width="1.4" height="1.4" fill="#a800a8"/>
<rect x="757.6" y="180.8" width="1.4" height="1.4" fill="#a800a8"/>
<rect x="771.1" y="215.5" width="1.4" height="1.4" fill="#a800a8"/>
<rect x="750.8" y="230.7" width="1.4" height="1.4" fill="#a800a8"/>
<rect x="700.0" y="272.0" width="1.4" height="1.4" fill="#a800a8"/>
<rect x="785.1" y="192.0" width="1.4" height="1.4" fill="#a800a8"/>
<rect x="767.4" y="182.3" width="1.4" height="1.4" fill="#a800a8"/>
<rect x="748.8" y="176.8" width="1.4" height="1.4" fill="#a800a8"/>
<rect x="774.6" y="192.7" width="1.4" height="1.4" fill="#a800a8"/>
<rect x="663.4" y="282.8" width="1.4" height="1.4" fill="#a800a8"/>
<rect x="719.3" y="259.5" width="1.4" height="1.4" fill="#a800a8"/>
<rect x="654.0" y="284.1" width="1.4" height="1.4" fill="#a800a8"/>
<rect x="764.6" y="222.0" width="1.4" height="1.4" fill="#a800a8"/>
<rect x="703.3" y="167.6" width="1.4" height="1.4" fill="#a800a8"/>
<rect x="688.9" y="169.9" width="1.4" height="1.4" fill="#a800a8"/>
<rect x="757.2" y="178.7" width="1.4" height="1.4" fill="#a800a8"/>
<rect x="770.0" y="191.6" width="1.4" height="1.4" fill="#a800a8"/>
<rect x="557.8" y="270.7" width="1.4" height="1.4" fill="#a800a8"/>
<rect x="779.8" y="203.9" width="1.4" height="1.4" fill="#a800a8"/>
<rect x="675.9" y="283.1" width="1.4" height="1.4" fill="#a800a8"/>
<rect x="766.7" y="214.3" width="1.4" height="1.4" fill="#a800a8"/>
<rect x="709.2" y="167.8" width="1.4" height="1.4" fill="#a800a8"/>
<rect x="728.4" y="236.4" width="1.4" height="1.4" fill="#a800a8"/>
<rect x="682.0" y="273.7" width="1.4" height="1.4" fill="#a800a8"/>
<rect x="584.2" y="290.8" width="1.4" height="1.4" fill="#a800a8"/>
<rect x="772.1" y="197.3" width="1.4" height="1.4" fill="#a800a8"/>
<rect x="745.4" y="172.0" width="1.4" height="1.4" fill="#a800a8"/>
<rect x="633.1" y="282.5" width="1.4" height="1.4" fill="#a800a8"/>
<rect x="733.1" y="169.7" width="1.4" height="1.4" fill="#a800a8"/>
<rect x="759.3" y="217.6" width="1.4" height="1.4" fill="#a800a8"/>
<rect x="723.0" y="248.1" width="1.4" height="1.4" fill="#a800a8"/>
<rect x="675.4" y="275.0" width="1.4" height="1.4" fill="#a800a8"/>
<rect x="725.3" y="170.5" width="1.4" height="1.4" fill="#a800a8"/>
<rect x="570.7" y="156.5" width="1.4" height="1.4" fill="#a800a8"/>
<rect x="559.9" y="164.5" width="1.4" height="1.4" fill="#a800a8"/>
<rect x="598.6" y="291.0" width="1.4" height="1.4" fill="#a800a8"/>
<rect x="559.7" y="151.3" width="1.4" height="1.4" fill="#a800a8"/>
<rect x="769.7" y="198.1" width="1.4" height="1.4" fill="#a800a8"/>
<rect x="150" y="82.6" width="340" height="339.4" fill="none" stroke="#111" stroke-width="3"/>
<line x1="141.0" y1="103.6" x2="150.0" y2="103.6" stroke="#111" stroke-width="2.2"/>
<line x1="141.0" y1="175.7" x2="150.0" y2="175.7" stroke="#111" stroke-width="2.2"/>
<line x1="141.0" y1="253.8" x2="150.0" y2="253.8" stroke="#111" stroke-width="2.2"/>
<line x1="141.0" y1="332.0" x2="150.0" y2="332.0" stroke="#111" stroke-width="2.2"/>
<line x1="141.0" y1="369.6" x2="150.0" y2="369.6" stroke="#111" stroke-width="2.2"/>
<line x1="145.0" y1="154.0" x2="150.0" y2="154.0" stroke="#111" stroke-width="1.8"/>
<line x1="145.0" y1="141.3" x2="150.0" y2="141.3" stroke="#111" stroke-width="1.8"/>
<line x1="145.0" y1="132.3" x2="150.0" y2="132.3" stroke="#111" stroke-width="1.8"/>
<line x1="145.0" y1="125.3" x2="150.0" y2="125.3" stroke="#111" stroke-width="1.8"/>
<line x1="145.0" y1="119.6" x2="150.0" y2="119.6" stroke="#111" stroke-width="1.8"/>
<line x1="145.0" y1="114.8" x2="150.0" y2="114.8" stroke="#111" stroke-width="1.8"/>
<line x1="145.0" y1="110.6" x2="150.0" y2="110.6" stroke="#111" stroke-width="1.8"/>
<line x1="145.0" y1="106.9" x2="150.0" y2="106.9" stroke="#111" stroke-width="1.8"/>
<line x1="145.0" y1="230.3" x2="150.0" y2="230.3" stroke="#111" stroke-width="1.8"/>
<line x1="145.0" y1="216.5" x2="150.0" y2="216.5" stroke="#111" stroke-width="1.8"/>
<line x1="145.0" y1="206.8" x2="150.0" y2="206.8" stroke="#111" stroke-width="1.8"/>
<line x1="145.0" y1="199.2" x2="150.0" y2="199.2" stroke="#111" stroke-width="1.8"/>
<line x1="145.0" y1="193.0" x2="150.0" y2="193.0" stroke="#111" stroke-width="1.8"/>
<line x1="145.0" y1="187.8" x2="150.0" y2="187.8" stroke="#111" stroke-width="1.8"/>
<line x1="145.0" y1="183.3" x2="150.0" y2="183.3" stroke="#111" stroke-width="1.8"/>
<line x1="145.0" y1="179.3" x2="150.0" y2="179.3" stroke="#111" stroke-width="1.8"/>
<line x1="145.0" y1="308.5" x2="150.0" y2="308.5" stroke="#111" stroke-width="1.8"/>
<line x1="145.0" y1="294.7" x2="150.0" y2="294.7" stroke="#111" stroke-width="1.8"/>
<line x1="145.0" y1="284.9" x2="150.0" y2="284.9" stroke="#111" stroke-width="1.8"/>
<line x1="145.0" y1="277.3" x2="150.0" y2="277.3" stroke="#111" stroke-width="1.8"/>
<line x1="145.0" y1="271.1" x2="150.0" y2="271.1" stroke="#111" stroke-width="1.8"/>
<line x1="145.0" y1="265.9" x2="150.0" y2="265.9" stroke="#111" stroke-width="1.8"/>
<line x1="145.0" y1="261.4" x2="150.0" y2="261.4" stroke="#111" stroke-width="1.8"/>
<line x1="145.0" y1="257.4" x2="150.0" y2="257.4" stroke="#111" stroke-width="1.8"/>
<line x1="144.5" y1="85.5" x2="150.0" y2="85.5" stroke="#111" stroke-width="1.8"/>
<line x1="144.5" y1="92.0" x2="150.0" y2="92.0" stroke="#111" stroke-width="1.8"/>
<line x1="144.5" y1="97.5" x2="150.0" y2="97.5" stroke="#111" stroke-width="1.8"/>
<line x1="144.5" y1="314.8" x2="150.0" y2="314.8" stroke="#111" stroke-width="1.8"/>
<line x1="144.5" y1="385.0" x2="150.0" y2="385.0" stroke="#111" stroke-width="1.8"/>
<line x1="144.5" y1="399.6" x2="150.0" y2="399.6" stroke="#111" stroke-width="1.8"/>
<line x1="144.5" y1="410.0" x2="150.0" y2="410.0" stroke="#111" stroke-width="1.8"/>
<line x1="144.5" y1="419.6" x2="150.0" y2="419.6" stroke="#111" stroke-width="1.8"/>
<line x1="146.0" y1="335.5" x2="150.0" y2="335.5" stroke="#111" stroke-width="1.3"/>
<line x1="146.0" y1="338.1" x2="150.0" y2="338.1" stroke="#111" stroke-width="1.3"/>
<line x1="146.0" y1="340.7" x2="150.0" y2="340.7" stroke="#111" stroke-width="1.3"/>
<line x1="146.0" y1="343.3" x2="150.0" y2="343.3" stroke="#111" stroke-width="1.3"/>
<line x1="146.0" y1="345.9" x2="150.0" y2="345.9" stroke="#111" stroke-width="1.3"/>
<line x1="146.0" y1="348.5" x2="150.0" y2="348.5" stroke="#111" stroke-width="1.3"/>
<line x1="146.0" y1="351.1" x2="150.0" y2="351.1" stroke="#111" stroke-width="1.3"/>
<line x1="146.0" y1="353.7" x2="150.0" y2="353.7" stroke="#111" stroke-width="1.3"/>
<line x1="146.0" y1="356.3" x2="150.0" y2="356.3" stroke="#111" stroke-width="1.3"/>
<line x1="146.0" y1="358.9" x2="150.0" y2="358.9" stroke="#111" stroke-width="1.3"/>
<line x1="146.0" y1="361.5" x2="150.0" y2="361.5" stroke="#111" stroke-width="1.3"/>
<line x1="146.0" y1="364.1" x2="150.0" y2="364.1" stroke="#111" stroke-width="1.3"/>
<line x1="146.0" y1="366.7" x2="150.0" y2="366.7" stroke="#111" stroke-width="1.3"/>
<rect x="141" y="347" width="9" height="6.5" fill="#111"/>
<rect x="146" y="334" width="4" height="35" fill="#111" opacity="0.55"/>
<line x1="183.6" y1="422.0" x2="183.6" y2="431.0" stroke="#111" stroke-width="2.2"/>
<line x1="244.6" y1="422.0" x2="244.6" y2="431.0" stroke="#111" stroke-width="2.2"/>
<line x1="338.2" y1="422.0" x2="338.2" y2="431.0" stroke="#111" stroke-width="2.2"/>
<line x1="428.3" y1="422.0" x2="428.3" y2="431.0" stroke="#111" stroke-width="2.2"/>
<line x1="488.6" y1="422.0" x2="488.6" y2="431.0" stroke="#111" stroke-width="2.2"/>
<line x1="158.0" y1="422.0" x2="158.0" y2="427.0" stroke="#111" stroke-width="1.8"/>
<line x1="268.0" y1="422.0" x2="268.0" y2="427.0" stroke="#111" stroke-width="1.8"/>
<line x1="285.4" y1="422.0" x2="285.4" y2="427.0" stroke="#111" stroke-width="1.8"/>
<line x1="299.0" y1="422.0" x2="299.0" y2="427.0" stroke="#111" stroke-width="1.8"/>
<line x1="317.0" y1="422.0" x2="317.0" y2="427.0" stroke="#111" stroke-width="1.8"/>
<line x1="323.7" y1="422.0" x2="323.7" y2="427.0" stroke="#111" stroke-width="1.8"/>
<line x1="329.2" y1="422.0" x2="329.2" y2="427.0" stroke="#111" stroke-width="1.8"/>
<line x1="334.6" y1="422.0" x2="334.6" y2="427.0" stroke="#111" stroke-width="1.8"/>
<line x1="366.0" y1="422.0" x2="366.0" y2="427.0" stroke="#111" stroke-width="1.8"/>
<line x1="382.3" y1="422.0" x2="382.3" y2="427.0" stroke="#111" stroke-width="1.8"/>
<line x1="394.0" y1="422.0" x2="394.0" y2="427.0" stroke="#111" stroke-width="1.8"/>
<line x1="402.2" y1="422.0" x2="402.2" y2="427.0" stroke="#111" stroke-width="1.8"/>
<line x1="408.5" y1="422.0" x2="408.5" y2="427.0" stroke="#111" stroke-width="1.8"/>
<line x1="415.7" y1="422.0" x2="415.7" y2="427.0" stroke="#111" stroke-width="1.8"/>
<line x1="421.0" y1="422.0" x2="421.0" y2="427.0" stroke="#111" stroke-width="1.8"/>
<line x1="425.6" y1="422.0" x2="425.6" y2="427.0" stroke="#111" stroke-width="1.8"/>
<line x1="454.4" y1="422.0" x2="454.4" y2="427.0" stroke="#111" stroke-width="1.8"/>
<line x1="469.7" y1="422.0" x2="469.7" y2="427.0" stroke="#111" stroke-width="1.8"/>
<line x1="480.5" y1="422.0" x2="480.5" y2="427.0" stroke="#111" stroke-width="1.8"/>
<line x1="309.0" y1="422.0" x2="309.0" y2="429.0" stroke="#111" stroke-width="1.9"/>
<line x1="198.0" y1="422.0" x2="198.0" y2="429.0" stroke="#111" stroke-width="1.9"/>
<line x1="230.0" y1="422.0" x2="230.0" y2="429.0" stroke="#111" stroke-width="1.9"/>
<line x1="186.5" y1="422.0" x2="186.5" y2="426.0" stroke="#111" stroke-width="1.3"/>
<line x1="189.6" y1="422.0" x2="189.6" y2="426.0" stroke="#111" stroke-width="1.3"/>
<line x1="192.7" y1="422.0" x2="192.7" y2="426.0" stroke="#111" stroke-width="1.3"/>
<line x1="195.8" y1="422.0" x2="195.8" y2="426.0" stroke="#111" stroke-width="1.3"/>
<line x1="198.9" y1="422.0" x2="198.9" y2="426.0" stroke="#111" stroke-width="1.3"/>
<line x1="202.0" y1="422.0" x2="202.0" y2="426.0" stroke="#111" stroke-width="1.3"/>
<line x1="205.1" y1="422.0" x2="205.1" y2="426.0" stroke="#111" stroke-width="1.3"/>
<line x1="208.2" y1="422.0" x2="208.2" y2="426.0" stroke="#111" stroke-width="1.3"/>
<line x1="211.3" y1="422.0" x2="211.3" y2="426.0" stroke="#111" stroke-width="1.3"/>
<line x1="214.4" y1="422.0" x2="214.4" y2="426.0" stroke="#111" stroke-width="1.3"/>
<line x1="217.5" y1="422.0" x2="217.5" y2="426.0" stroke="#111" stroke-width="1.3"/>
<line x1="220.6" y1="422.0" x2="220.6" y2="426.0" stroke="#111" stroke-width="1.3"/>
<line x1="223.7" y1="422.0" x2="223.7" y2="426.0" stroke="#111" stroke-width="1.3"/>
<line x1="226.8" y1="422.0" x2="226.8" y2="426.0" stroke="#111" stroke-width="1.3"/>
<line x1="229.9" y1="422.0" x2="229.9" y2="426.0" stroke="#111" stroke-width="1.3"/>
<line x1="233.0" y1="422.0" x2="233.0" y2="426.0" stroke="#111" stroke-width="1.3"/>
<line x1="236.1" y1="422.0" x2="236.1" y2="426.0" stroke="#111" stroke-width="1.3"/>
<line x1="239.2" y1="422.0" x2="239.2" y2="426.0" stroke="#111" stroke-width="1.3"/>
<line x1="242.3" y1="422.0" x2="242.3" y2="426.0" stroke="#111" stroke-width="1.3"/>
<rect x="209" y="422" width="8.6" height="9" fill="#111"/>
<rect x="520.5" y="82.6" width="340.0" height="339.4" fill="none" stroke="#111" stroke-width="3"/>
<line x1="511.5" y1="103.6" x2="520.5" y2="103.6" stroke="#111" stroke-width="2.2"/>
<line x1="511.5" y1="175.7" x2="520.5" y2="175.7" stroke="#111" stroke-width="2.2"/>
<line x1="511.5" y1="253.8" x2="520.5" y2="253.8" stroke="#111" stroke-width="2.2"/>
<line x1="511.5" y1="332.0" x2="520.5" y2="332.0" stroke="#111" stroke-width="2.2"/>
<line x1="511.5" y1="369.6" x2="520.5" y2="369.6" stroke="#111" stroke-width="2.2"/>
<line x1="515.5" y1="154.0" x2="520.5" y2="154.0" stroke="#111" stroke-width="1.8"/>
<line x1="515.5" y1="141.3" x2="520.5" y2="141.3" stroke="#111" stroke-width="1.8"/>
<line x1="515.5" y1="132.3" x2="520.5" y2="132.3" stroke="#111" stroke-width="1.8"/>
<line x1="515.5" y1="125.3" x2="520.5" y2="125.3" stroke="#111" stroke-width="1.8"/>
<line x1="515.5" y1="119.6" x2="520.5" y2="119.6" stroke="#111" stroke-width="1.8"/>
<line x1="515.5" y1="114.8" x2="520.5" y2="114.8" stroke="#111" stroke-width="1.8"/>
<line x1="515.5" y1="110.6" x2="520.5" y2="110.6" stroke="#111" stroke-width="1.8"/>
<line x1="515.5" y1="106.9" x2="520.5" y2="106.9" stroke="#111" stroke-width="1.8"/>
<line x1="515.5" y1="230.3" x2="520.5" y2="230.3" stroke="#111" stroke-width="1.8"/>
<line x1="515.5" y1="216.5" x2="520.5" y2="216.5" stroke="#111" stroke-width="1.8"/>
<line x1="515.5" y1="206.8" x2="520.5" y2="206.8" stroke="#111" stroke-width="1.8"/>
<line x1="515.5" y1="199.2" x2="520.5" y2="199.2" stroke="#111" stroke-width="1.8"/>
<line x1="515.5" y1="193.0" x2="520.5" y2="193.0" stroke="#111" stroke-width="1.8"/>
<line x1="515.5" y1="187.8" x2="520.5" y2="187.8" stroke="#111" stroke-width="1.8"/>
<line x1="515.5" y1="183.3" x2="520.5" y2="183.3" stroke="#111" stroke-width="1.8"/>
<line x1="515.5" y1="179.3" x2="520.5" y2="179.3" stroke="#111" stroke-width="1.8"/>
<line x1="515.5" y1="308.5" x2="520.5" y2="308.5" stroke="#111" stroke-width="1.8"/>
<line x1="515.5" y1="294.7" x2="520.5" y2="294.7" stroke="#111" stroke-width="1.8"/>
<line x1="515.5" y1="284.9" x2="520.5" y2="284.9" stroke="#111" stroke-width="1.8"/>
<line x1="515.5" y1="277.3" x2="520.5" y2="277.3" stroke="#111" stroke-width="1.8"/>
<line x1="515.5" y1="271.1" x2="520.5" y2="271.1" stroke="#111" stroke-width="1.8"/>
<line x1="515.5" y1="265.9" x2="520.5" y2="265.9" stroke="#111" stroke-width="1.8"/>
<line x1="515.5" y1="261.4" x2="520.5" y2="261.4" stroke="#111" stroke-width="1.8"/>
<line x1="515.5" y1="257.4" x2="520.5" y2="257.4" stroke="#111" stroke-width="1.8"/>
<line x1="515.0" y1="85.5" x2="520.5" y2="85.5" stroke="#111" stroke-width="1.8"/>
<line x1="515.0" y1="92.0" x2="520.5" y2="92.0" stroke="#111" stroke-width="1.8"/>
<line x1="515.0" y1="97.5" x2="520.5" y2="97.5" stroke="#111" stroke-width="1.8"/>
<line x1="515.0" y1="314.8" x2="520.5" y2="314.8" stroke="#111" stroke-width="1.8"/>
<line x1="515.0" y1="385.0" x2="520.5" y2="385.0" stroke="#111" stroke-width="1.8"/>
<line x1="515.0" y1="399.6" x2="520.5" y2="399.6" stroke="#111" stroke-width="1.8"/>
<line x1="515.0" y1="410.0" x2="520.5" y2="410.0" stroke="#111" stroke-width="1.8"/>
<line x1="515.0" y1="419.6" x2="520.5" y2="419.6" stroke="#111" stroke-width="1.8"/>
<line x1="516.5" y1="335.5" x2="520.5" y2="335.5" stroke="#111" stroke-width="1.3"/>
<line x1="516.5" y1="338.1" x2="520.5" y2="338.1" stroke="#111" stroke-width="1.3"/>
<line x1="516.5" y1="340.7" x2="520.5" y2="340.7" stroke="#111" stroke-width="1.3"/>
<line x1="516.5" y1="343.3" x2="520.5" y2="343.3" stroke="#111" stroke-width="1.3"/>
<line x1="516.5" y1="345.9" x2="520.5" y2="345.9" stroke="#111" stroke-width="1.3"/>
<line x1="516.5" y1="348.5" x2="520.5" y2="348.5" stroke="#111" stroke-width="1.3"/>
<line x1="516.5" y1="351.1" x2="520.5" y2="351.1" stroke="#111" stroke-width="1.3"/>
<line x1="516.5" y1="353.7" x2="520.5" y2="353.7" stroke="#111" stroke-width="1.3"/>
<line x1="516.5" y1="356.3" x2="520.5" y2="356.3" stroke="#111" stroke-width="1.3"/>
<line x1="516.5" y1="358.9" x2="520.5" y2="358.9" stroke="#111" stroke-width="1.3"/>
<line x1="516.5" y1="361.5" x2="520.5" y2="361.5" stroke="#111" stroke-width="1.3"/>
<line x1="516.5" y1="364.1" x2="520.5" y2="364.1" stroke="#111" stroke-width="1.3"/>
<line x1="516.5" y1="366.7" x2="520.5" y2="366.7" stroke="#111" stroke-width="1.3"/>
<rect x="511.5" y="347" width="9" height="6.5" fill="#111"/>
<rect x="516.5" y="334" width="4" height="35" fill="#111" opacity="0.55"/>
<line x1="554.1" y1="422.0" x2="554.1" y2="431.0" stroke="#111" stroke-width="2.2"/>
<line x1="615.1" y1="422.0" x2="615.1" y2="431.0" stroke="#111" stroke-width="2.2"/>
<line x1="708.7" y1="422.0" x2="708.7" y2="431.0" stroke="#111" stroke-width="2.2"/>
<line x1="798.8" y1="422.0" x2="798.8" y2="431.0" stroke="#111" stroke-width="2.2"/>
<line x1="859.1" y1="422.0" x2="859.1" y2="431.0" stroke="#111" stroke-width="2.2"/>
<line x1="528.5" y1="422.0" x2="528.5" y2="427.0" stroke="#111" stroke-width="1.8"/>
<line x1="638.5" y1="422.0" x2="638.5" y2="427.0" stroke="#111" stroke-width="1.8"/>
<line x1="655.9" y1="422.0" x2="655.9" y2="427.0" stroke="#111" stroke-width="1.8"/>
<line x1="669.5" y1="422.0" x2="669.5" y2="427.0" stroke="#111" stroke-width="1.8"/>
<line x1="687.5" y1="422.0" x2="687.5" y2="427.0" stroke="#111" stroke-width="1.8"/>
<line x1="694.2" y1="422.0" x2="694.2" y2="427.0" stroke="#111" stroke-width="1.8"/>
<line x1="699.7" y1="422.0" x2="699.7" y2="427.0" stroke="#111" stroke-width="1.8"/>
<line x1="705.1" y1="422.0" x2="705.1" y2="427.0" stroke="#111" stroke-width="1.8"/>
<line x1="736.5" y1="422.0" x2="736.5" y2="427.0" stroke="#111" stroke-width="1.8"/>
<line x1="752.8" y1="422.0" x2="752.8" y2="427.0" stroke="#111" stroke-width="1.8"/>
<line x1="764.5" y1="422.0" x2="764.5" y2="427.0" stroke="#111" stroke-width="1.8"/>
<line x1="772.7" y1="422.0" x2="772.7" y2="427.0" stroke="#111" stroke-width="1.8"/>
<line x1="779.0" y1="422.0" x2="779.0" y2="427.0" stroke="#111" stroke-width="1.8"/>
<line x1="786.2" y1="422.0" x2="786.2" y2="427.0" stroke="#111" stroke-width="1.8"/>
<line x1="791.5" y1="422.0" x2="791.5" y2="427.0" stroke="#111" stroke-width="1.8"/>
<line x1="796.1" y1="422.0" x2="796.1" y2="427.0" stroke="#111" stroke-width="1.8"/>
<line x1="824.9" y1="422.0" x2="824.9" y2="427.0" stroke="#111" stroke-width="1.8"/>
<line x1="840.2" y1="422.0" x2="840.2" y2="427.0" stroke="#111" stroke-width="1.8"/>
<line x1="851.0" y1="422.0" x2="851.0" y2="427.0" stroke="#111" stroke-width="1.8"/>
<line x1="679.5" y1="422.0" x2="679.5" y2="429.0" stroke="#111" stroke-width="1.9"/>
<line x1="568.5" y1="422.0" x2="568.5" y2="429.0" stroke="#111" stroke-width="1.9"/>
<line x1="600.5" y1="422.0" x2="600.5" y2="429.0" stroke="#111" stroke-width="1.9"/>
<line x1="557.0" y1="422.0" x2="557.0" y2="426.0" stroke="#111" stroke-width="1.3"/>
<line x1="560.1" y1="422.0" x2="560.1" y2="426.0" stroke="#111" stroke-width="1.3"/>
<line x1="563.2" y1="422.0" x2="563.2" y2="426.0" stroke="#111" stroke-width="1.3"/>
<line x1="566.3" y1="422.0" x2="566.3" y2="426.0" stroke="#111" stroke-width="1.3"/>
<line x1="569.4" y1="422.0" x2="569.4" y2="426.0" stroke="#111" stroke-width="1.3"/>
<line x1="572.5" y1="422.0" x2="572.5" y2="426.0" stroke="#111" stroke-width="1.3"/>
<line x1="575.6" y1="422.0" x2="575.6" y2="426.0" stroke="#111" stroke-width="1.3"/>
<line x1="578.7" y1="422.0" x2="578.7" y2="426.0" stroke="#111" stroke-width="1.3"/>
<line x1="581.8" y1="422.0" x2="581.8" y2="426.0" stroke="#111" stroke-width="1.3"/>
<line x1="584.9" y1="422.0" x2="584.9" y2="426.0" stroke="#111" stroke-width="1.3"/>
<line x1="588.0" y1="422.0" x2="588.0" y2="426.0" stroke="#111" stroke-width="1.3"/>
<line x1="591.1" y1="422.0" x2="591.1" y2="426.0" stroke="#111" stroke-width="1.3"/>
<line x1="594.2" y1="422.0" x2="594.2" y2="426.0" stroke="#111" stroke-width="1.3"/>
<line x1="597.3" y1="422.0" x2="597.3" y2="426.0" stroke="#111" stroke-width="1.3"/>
<line x1="600.4" y1="422.0" x2="600.4" y2="426.0" stroke="#111" stroke-width="1.3"/>
<line x1="603.5" y1="422.0" x2="603.5" y2="426.0" stroke="#111" stroke-width="1.3"/>
<line x1="606.6" y1="422.0" x2="606.6" y2="426.0" stroke="#111" stroke-width="1.3"/>
<line x1="609.7" y1="422.0" x2="609.7" y2="426.0" stroke="#111" stroke-width="1.3"/>
<line x1="612.8" y1="422.0" x2="612.8" y2="426.0" stroke="#111" stroke-width="1.3"/>
<rect x="579.5" y="422" width="8.6" height="9" fill="#111"/>
<rect x="258" y="142.3" width="212" height="132.7" fill="none" stroke="#333" stroke-width="2.2"/>
<rect x="630" y="142.5" width="212" height="133" fill="none" stroke="#333" stroke-width="2.2"/>
<text x="469.3" y="136.2" font-size="24.5" text-anchor="end">38.6%</text>
<text x="840.8" y="136.4" font-size="24.5" text-anchor="end">22.8%</text>
<text x="270" y="58" font-size="31" font-style="italic">Ncr1<tspan font-size="19.5" dy="-10.8">cre</tspan></text>
<text x="551" y="58" font-size="31" font-style="italic">Ncr1<tspan font-size="19.5" dy="-10.8">cre</tspan><tspan dy="10.8">Tnfr1</tspan><tspan font-size="19" dy="-10.3">fl/fl</tspan><tspan dy="10.3">Tnfr2</tspan><tspan font-size="19" dy="-10.3">fl/fl</tspan></text>
<path d="M88.9,477.1 V383 M88.9,477.1 H181" fill="none" stroke="#231f20" stroke-width="3.2"/>
<path d="M88.9,357.8 L101.2,387.5 L88.9,380.5 L76.4,387.5 Z" fill="#231f20"/>
<path d="M207.7,477.1 L178.2,464.7 L184.2,477.1 L178.2,489.5 Z" fill="#231f20"/>
<text transform="translate(101.5,228.5) rotate(-90)" font-size="32" text-anchor="middle">NKp46 PE-Cy7</text>
<text x="228.7" y="485.8" font-size="31.5">Tim3 APC</text>
<defs><filter id="blur2"><feGaussianBlur stdDeviation="2.5"/></filter></defs>
<path d="M1134.7,428.2 V251.7 H1196.9 V428.2" fill="#fff" stroke="#000" stroke-width="3.1" stroke-linejoin="miter"/>
<path d="M1232.4,428.2 V335.4 H1293.6 V428.2" fill="#fff" stroke="#000" stroke-width="3.1" stroke-linejoin="miter"/>
<circle cx="1176.7" cy="149.1" r="11.45" fill="#a2a1a6" stroke="#000" stroke-width="3.0"/>
<circle cx="1166.0" cy="158.3" r="11.45" fill="#a2a1a6" stroke="#000" stroke-width="3.0"/>
<circle cx="1154.7" cy="159.0" r="11.45" fill="#a2a1a6" stroke="#000" stroke-width="3.0"/>
<circle cx="1166.0" cy="212.9" r="11.45" fill="#a2a1a6" stroke="#000" stroke-width="3.0"/>
<circle cx="1155.4" cy="230.6" r="11.45" fill="#a2a1a6" stroke="#000" stroke-width="3.0"/>
<circle cx="1186.6" cy="227.0" r="11.45" fill="#a2a1a6" stroke="#000" stroke-width="3.0"/>
<circle cx="1154.7" cy="265.3" r="11.45" fill="#a2a1a6" stroke="#000" stroke-width="3.0"/>
<circle cx="1176.7" cy="270.9" r="11.45" fill="#a2a1a6" stroke="#000" stroke-width="3.0"/>
<circle cx="1166.0" cy="273.1" r="11.45" fill="#a2a1a6" stroke="#000" stroke-width="3.0"/>
<circle cx="1144.8" cy="251.1" r="11.45" fill="#a2a1a6" stroke="#000" stroke-width="3.0"/>
<circle cx="1186.6" cy="252.5" r="11.45" fill="#a2a1a6" stroke="#000" stroke-width="3.0"/>
<circle cx="1176.7" cy="301.4" r="11.45" fill="#a2a1a6" stroke="#000" stroke-width="3.0"/>
<circle cx="1166.7" cy="299.3" r="11.45" fill="#a2a1a6" stroke="#000" stroke-width="3.0"/>
<circle cx="1144.8" cy="307.8" r="11.45" fill="#a2a1a6" stroke="#000" stroke-width="3.0"/>
<circle cx="1155.4" cy="294.3" r="11.45" fill="#a2a1a6" stroke="#000" stroke-width="3.0"/>
<circle cx="1186.6" cy="292.2" r="11.45" fill="#a2a1a6" stroke="#000" stroke-width="3.0"/>
<circle cx="1186.6" cy="318.4" r="11.45" fill="#a2a1a6" stroke="#000" stroke-width="3.0"/>
<line x1="1133.2" y1="251.7" x2="1198.5" y2="251.7" stroke="#000" stroke-width="3.1" stroke-linecap="butt"/>
<line x1="1166.0" y1="236.2" x2="1166.0" y2="263.1" stroke="#000" stroke-width="3.1" stroke-linecap="butt"/>
<line x1="1150.5" y1="236.2" x2="1181.5" y2="236.2" stroke="#000" stroke-width="3.1" stroke-linecap="butt"/>
<line x1="1150.5" y1="263.1" x2="1181.5" y2="263.1" stroke="#000" stroke-width="3.1" stroke-linecap="butt"/>
<circle cx="1263.0" cy="272.9" r="11.45" fill="#b855d9" stroke="#000" stroke-width="3.0"/>
<circle cx="1263.0" cy="294.7" r="11.45" fill="#b855d9" stroke="#000" stroke-width="3.0"/>
<circle cx="1275.6" cy="309.6" r="11.45" fill="#b855d9" stroke="#000" stroke-width="3.0"/>
<circle cx="1251.0" cy="317.1" r="11.45" fill="#b855d9" stroke="#000" stroke-width="3.0"/>
<circle cx="1241.2" cy="328.6" r="11.45" fill="#b855d9" stroke="#000" stroke-width="3.0"/>
<circle cx="1259.0" cy="332.6" r="11.45" fill="#b855d9" stroke="#000" stroke-width="3.0"/>
<circle cx="1283.6" cy="332.6" r="11.45" fill="#b855d9" stroke="#000" stroke-width="3.0"/>
<circle cx="1249.8" cy="335.4" r="11.45" fill="#b855d9" stroke="#000" stroke-width="3.0"/>
<circle cx="1269.3" cy="352.1" r="11.45" fill="#b855d9" stroke="#000" stroke-width="3.0"/>
<circle cx="1259.0" cy="348.1" r="11.45" fill="#b855d9" stroke="#000" stroke-width="3.0"/>
<circle cx="1271.6" cy="387.6" r="11.45" fill="#b855d9" stroke="#000" stroke-width="3.0"/>
<circle cx="1263.0" cy="373.3" r="11.45" fill="#b855d9" stroke="#000" stroke-width="3.0"/>
<circle cx="1254.4" cy="389.9" r="11.45" fill="#b855d9" stroke="#000" stroke-width="3.0"/>
<line x1="1230.9" y1="335.4" x2="1295.1" y2="335.4" stroke="#000" stroke-width="3.1" stroke-linecap="butt"/>
<line x1="1263.0" y1="326.8" x2="1263.0" y2="341.7" stroke="#000" stroke-width="3.1" stroke-linecap="butt"/>
<line x1="1247.0" y1="326.8" x2="1279.0" y2="326.8" stroke="#000" stroke-width="3.1" stroke-linecap="butt"/>
<line x1="1247.0" y1="341.7" x2="1279.0" y2="341.7" stroke="#000" stroke-width="3.1" stroke-linecap="butt"/>
<line x1="1101.7" y1="86.5" x2="1101.7" y2="429.8" stroke="#000" stroke-width="3.1" stroke-linecap="butt"/>
<line x1="1079.0" y1="428.2" x2="1330.0" y2="428.2" stroke="#000" stroke-width="3.1" stroke-linecap="butt"/>
<line x1="1079.0" y1="428.2" x2="1101.7" y2="428.2" stroke="#000" stroke-width="3.1" stroke-linecap="butt"/>
<text x="1074.0" y="439.4" font-size="33" text-anchor="end" >0</text>
<line x1="1079.0" y1="343.1" x2="1101.7" y2="343.1" stroke="#000" stroke-width="3.1" stroke-linecap="butt"/>
<text x="1074.0" y="354.3" font-size="33" text-anchor="end" >20</text>
<line x1="1079.0" y1="258.1" x2="1101.7" y2="258.1" stroke="#000" stroke-width="3.1" stroke-linecap="butt"/>
<text x="1074.0" y="269.3" font-size="33" text-anchor="end" >40</text>
<line x1="1079.0" y1="173.1" x2="1101.7" y2="173.1" stroke="#000" stroke-width="3.1" stroke-linecap="butt"/>
<text x="1074.0" y="184.2" font-size="33" text-anchor="end" >60</text>
<line x1="1079.0" y1="88.0" x2="1101.7" y2="88.0" stroke="#000" stroke-width="3.1" stroke-linecap="butt"/>
<text x="1074.0" y="99.2" font-size="33" text-anchor="end" >80</text>
<line x1="1134.7" y1="86.5" x2="1297.0" y2="86.5" stroke="#000" stroke-width="2.4" stroke-linecap="butt"/>
<text x="1214.0" y="77.0" font-size="27" text-anchor="middle" >&lt;0.0001</text>
<text transform="translate(1011.0,256.5) rotate(-90)" font-size="32" text-anchor="middle" >Spleen NK cells Tim3<tspan font-size="19" dy="-11">+</tspan><tspan dy="11"> (%)</tspan></text>
<path d="M1532.6,428.0 V251.2 H1594.5 V428.0" fill="#fff" stroke="#000" stroke-width="3.1" stroke-linejoin="miter"/>
<path d="M1629.7,428.0 V311.1 H1691.3 V428.0" fill="#fff" stroke="#000" stroke-width="3.1" stroke-linejoin="miter"/>
<circle cx="1568.7" cy="177.2" r="11.45" fill="#a2a1a6" stroke="#000" stroke-width="3.0"/>
<circle cx="1553.3" cy="192.1" r="11.45" fill="#a2a1a6" stroke="#000" stroke-width="3.0"/>
<circle cx="1575.0" cy="194.4" r="11.45" fill="#a2a1a6" stroke="#000" stroke-width="3.0"/>
<circle cx="1559.0" cy="188.1" r="11.45" fill="#a2a1a6" stroke="#000" stroke-width="3.0"/>
<circle cx="1563.6" cy="209.3" r="11.45" fill="#a2a1a6" stroke="#000" stroke-width="3.0"/>
<circle cx="1563.6" cy="216.2" r="11.45" fill="#a2a1a6" stroke="#000" stroke-width="3.0"/>
<circle cx="1563.6" cy="237.4" r="11.45" fill="#a2a1a6" stroke="#000" stroke-width="3.0"/>
<circle cx="1554.4" cy="278.1" r="11.45" fill="#a2a1a6" stroke="#000" stroke-width="3.0"/>
<circle cx="1563.6" cy="277.0" r="11.45" fill="#a2a1a6" stroke="#000" stroke-width="3.0"/>
<circle cx="1573.9" cy="287.3" r="11.45" fill="#a2a1a6" stroke="#000" stroke-width="3.0"/>
<circle cx="1563.6" cy="291.9" r="11.45" fill="#a2a1a6" stroke="#000" stroke-width="3.0"/>
<circle cx="1573.3" cy="281.0" r="11.45" fill="#a2a1a6" stroke="#000" stroke-width="3.0"/>
<circle cx="1542.9" cy="266.7" r="11.45" fill="#a2a1a6" stroke="#000" stroke-width="3.0"/>
<circle cx="1584.2" cy="268.4" r="11.45" fill="#a2a1a6" stroke="#000" stroke-width="3.0"/>
<circle cx="1542.9" cy="295.9" r="11.45" fill="#a2a1a6" stroke="#000" stroke-width="3.0"/>
<circle cx="1584.2" cy="303.9" r="11.45" fill="#a2a1a6" stroke="#000" stroke-width="3.0"/>
<line x1="1531.0" y1="251.2" x2="1596.0" y2="251.2" stroke="#000" stroke-width="3.1" stroke-linecap="butt"/>
<line x1="1563.6" y1="239.1" x2="1563.6" y2="260.3" stroke="#000" stroke-width="3.1" stroke-linecap="butt"/>
<line x1="1548.1" y1="239.1" x2="1579.6" y2="239.1" stroke="#000" stroke-width="3.1" stroke-linecap="butt"/>
<line x1="1548.1" y1="260.3" x2="1579.6" y2="260.3" stroke="#000" stroke-width="3.1" stroke-linecap="butt"/>
<circle cx="1664.7" cy="257.8" r="11.45" fill="#b855d9" stroke="#000" stroke-width="3.0"/>
<circle cx="1677.3" cy="279.6" r="11.45" fill="#b855d9" stroke="#000" stroke-width="3.0"/>
<circle cx="1644.7" cy="285.3" r="11.45" fill="#b855d9" stroke="#000" stroke-width="3.0"/>
<circle cx="1652.1" cy="278.4" r="11.45" fill="#b855d9" stroke="#000" stroke-width="3.0"/>
<circle cx="1655.5" cy="272.7" r="11.45" fill="#b855d9" stroke="#000" stroke-width="3.0"/>
<circle cx="1670.5" cy="289.3" r="11.45" fill="#b855d9" stroke="#000" stroke-width="3.0"/>
<circle cx="1660.7" cy="295.0" r="11.45" fill="#b855d9" stroke="#000" stroke-width="3.0"/>
<circle cx="1639.5" cy="302.5" r="11.45" fill="#b855d9" stroke="#000" stroke-width="3.0"/>
<circle cx="1660.7" cy="330.6" r="11.45" fill="#b855d9" stroke="#000" stroke-width="3.0"/>
<circle cx="1647.5" cy="320.3" r="11.45" fill="#b855d9" stroke="#000" stroke-width="3.0"/>
<circle cx="1670.5" cy="316.8" r="11.45" fill="#b855d9" stroke="#000" stroke-width="3.0"/>
<circle cx="1680.8" cy="319.1" r="11.45" fill="#b855d9" stroke="#000" stroke-width="3.0"/>
<circle cx="1656.1" cy="313.4" r="11.45" fill="#b855d9" stroke="#000" stroke-width="3.0"/>
<circle cx="1668.7" cy="360.4" r="11.45" fill="#b855d9" stroke="#000" stroke-width="3.0"/>
<circle cx="1660.1" cy="351.8" r="11.45" fill="#b855d9" stroke="#000" stroke-width="3.0"/>
<circle cx="1652.1" cy="370.2" r="11.45" fill="#b855d9" stroke="#000" stroke-width="3.0"/>
<line x1="1628.2" y1="311.1" x2="1692.8" y2="311.1" stroke="#000" stroke-width="3.1" stroke-linecap="butt"/>
<line x1="1660.7" y1="301.7" x2="1660.7" y2="317.4" stroke="#000" stroke-width="3.1" stroke-linecap="butt"/>
<line x1="1645.2" y1="301.7" x2="1676.2" y2="301.7" stroke="#000" stroke-width="3.1" stroke-linecap="butt"/>
<line x1="1645.2" y1="317.4" x2="1676.2" y2="317.4" stroke="#000" stroke-width="3.1" stroke-linecap="butt"/>
<line x1="1499.4" y1="86.5" x2="1499.4" y2="429.6" stroke="#000" stroke-width="3.1" stroke-linecap="butt"/>
<line x1="1476.7" y1="428.0" x2="1727.0" y2="428.0" stroke="#000" stroke-width="3.1" stroke-linecap="butt"/>
<line x1="1476.7" y1="428.0" x2="1499.4" y2="428.0" stroke="#000" stroke-width="3.1" stroke-linecap="butt"/>
<text x="1471.7" y="439.2" font-size="33" text-anchor="end" >0</text>
<line x1="1476.7" y1="343.0" x2="1499.4" y2="343.0" stroke="#000" stroke-width="3.1" stroke-linecap="butt"/>
<text x="1471.7" y="354.2" font-size="33" text-anchor="end" >20</text>
<line x1="1476.7" y1="258.0" x2="1499.4" y2="258.0" stroke="#000" stroke-width="3.1" stroke-linecap="butt"/>
<text x="1471.7" y="269.2" font-size="33" text-anchor="end" >40</text>
<line x1="1476.7" y1="173.0" x2="1499.4" y2="173.0" stroke="#000" stroke-width="3.1" stroke-linecap="butt"/>
<text x="1471.7" y="184.2" font-size="33" text-anchor="end" >60</text>
<line x1="1476.7" y1="88.0" x2="1499.4" y2="88.0" stroke="#000" stroke-width="3.1" stroke-linecap="butt"/>
<text x="1471.7" y="99.2" font-size="33" text-anchor="end" >80</text>
<line x1="1533.0" y1="86.3" x2="1681.5" y2="86.3" stroke="#000" stroke-width="2.4" stroke-linecap="butt"/>
<text x="1607.4" y="77.0" font-size="27" text-anchor="middle" >0.0002</text>
<text transform="translate(1410.5,260.0) rotate(-90)" font-size="32" text-anchor="middle" >Liver NK cells Tim3<tspan font-size="19" dy="-11">+</tspan><tspan dy="11"> (%)</tspan></text>
<circle cx="1762.5" cy="104" r="11.95" fill="#a2a1a6" stroke="#000" stroke-width="3.4"/>
<circle cx="1762.5" cy="161.4" r="11.95" fill="#b855d9" stroke="#000" stroke-width="3.4"/>
<text x="1806" y="114.6" font-size="32" font-style="italic">Ncr1<tspan font-size="20" dy="-11">cre</tspan></text>
<text x="1806" y="171" font-size="32" font-style="italic">Ncr1<tspan font-size="20" dy="-11">cre</tspan><tspan dy="11">Tnfr1</tspan><tspan font-size="18" dy="-10.5">fl/fl</tspan></text>
<text x="1808" y="208" font-size="32" font-style="italic">Tnfr2<tspan font-size="18" dy="-10.5">fl/fl</tspan></text>
<path d="M233.3,961.0 V817.0 H294.6 V961.0" fill="#fff" stroke="#000" stroke-width="3.1" stroke-linejoin="miter"/>
<path d="M330.1,961.0 V848.9 H391.7 V961.0" fill="#fff" stroke="#000" stroke-width="3.1" stroke-linejoin="miter"/>
<circle cx="263.6" cy="645.3" r="11.45" fill="#a2a1a6" stroke="#000" stroke-width="3.0"/>
<circle cx="274.4" cy="693.9" r="11.45" fill="#a2a1a6" stroke="#000" stroke-width="3.0"/>
<circle cx="263.6" cy="716.4" r="11.45" fill="#a2a1a6" stroke="#000" stroke-width="3.0"/>
<circle cx="263.6" cy="756.1" r="11.45" fill="#a2a1a6" stroke="#000" stroke-width="3.0"/>
<circle cx="253.3" cy="795.6" r="11.45" fill="#a2a1a6" stroke="#000" stroke-width="3.0"/>
<circle cx="274.4" cy="801.4" r="11.45" fill="#a2a1a6" stroke="#000" stroke-width="3.0"/>
<circle cx="263.6" cy="783.5" r="11.45" fill="#a2a1a6" stroke="#000" stroke-width="3.0"/>
<circle cx="264.8" cy="810.5" r="11.45" fill="#a2a1a6" stroke="#000" stroke-width="3.0"/>
<circle cx="274.4" cy="828.9" r="11.45" fill="#a2a1a6" stroke="#000" stroke-width="3.0"/>
<circle cx="243.0" cy="846.1" r="11.45" fill="#a2a1a6" stroke="#000" stroke-width="3.0"/>
<circle cx="284.3" cy="845.0" r="11.45" fill="#a2a1a6" stroke="#000" stroke-width="3.0"/>
<circle cx="264.8" cy="849.6" r="11.45" fill="#a2a1a6" stroke="#000" stroke-width="3.0"/>
<circle cx="274.4" cy="859.9" r="11.45" fill="#a2a1a6" stroke="#000" stroke-width="3.0"/>
<circle cx="253.3" cy="854.2" r="11.45" fill="#a2a1a6" stroke="#000" stroke-width="3.0"/>
<circle cx="263.6" cy="909.7" r="11.45" fill="#a2a1a6" stroke="#000" stroke-width="3.0"/>
<circle cx="274.4" cy="927.6" r="11.45" fill="#a2a1a6" stroke="#000" stroke-width="3.0"/>
<circle cx="253.3" cy="944.1" r="11.45" fill="#a2a1a6" stroke="#000" stroke-width="3.0"/>
<line x1="231.8" y1="817.0" x2="296.2" y2="817.0" stroke="#000" stroke-width="3.1" stroke-linecap="butt"/>
<line x1="263.6" y1="796.3" x2="263.6" y2="835.3" stroke="#000" stroke-width="3.1" stroke-linecap="butt"/>
<line x1="248.7" y1="796.3" x2="279.2" y2="796.3" stroke="#000" stroke-width="3.1" stroke-linecap="butt"/>
<line x1="248.7" y1="835.3" x2="279.2" y2="835.3" stroke="#000" stroke-width="3.1" stroke-linecap="butt"/>
<circle cx="360.7" cy="777.8" r="11.45" fill="#b855d9" stroke="#000" stroke-width="3.0"/>
<circle cx="355.6" cy="803.0" r="11.45" fill="#b855d9" stroke="#000" stroke-width="3.0"/>
<circle cx="365.9" cy="808.2" r="11.45" fill="#b855d9" stroke="#000" stroke-width="3.0"/>
<circle cx="345.2" cy="811.0" r="11.45" fill="#b855d9" stroke="#000" stroke-width="3.0"/>
<circle cx="376.2" cy="802.4" r="11.45" fill="#b855d9" stroke="#000" stroke-width="3.0"/>
<circle cx="360.7" cy="828.2" r="11.45" fill="#b855d9" stroke="#000" stroke-width="3.0"/>
<circle cx="359.6" cy="851.7" r="11.45" fill="#b855d9" stroke="#000" stroke-width="3.0"/>
<circle cx="345.2" cy="848.9" r="11.45" fill="#b855d9" stroke="#000" stroke-width="3.0"/>
<circle cx="376.2" cy="844.3" r="11.45" fill="#b855d9" stroke="#000" stroke-width="3.0"/>
<circle cx="340.1" cy="877.5" r="11.45" fill="#b855d9" stroke="#000" stroke-width="3.0"/>
<circle cx="365.9" cy="888.4" r="11.45" fill="#b855d9" stroke="#000" stroke-width="3.0"/>
<circle cx="370.5" cy="874.7" r="11.45" fill="#b855d9" stroke="#000" stroke-width="3.0"/>
<circle cx="350.4" cy="873.0" r="11.45" fill="#b855d9" stroke="#000" stroke-width="3.0"/>
<circle cx="381.9" cy="877.5" r="11.45" fill="#b855d9" stroke="#000" stroke-width="3.0"/>
<circle cx="356.1" cy="909.1" r="11.45" fill="#b855d9" stroke="#000" stroke-width="3.0"/>
<line x1="328.6" y1="848.9" x2="393.2" y2="848.9" stroke="#000" stroke-width="3.1" stroke-linecap="butt"/>
<line x1="359.6" y1="839.1" x2="359.6" y2="856.7" stroke="#000" stroke-width="3.1" stroke-linecap="butt"/>
<line x1="345.2" y1="839.1" x2="376.8" y2="839.1" stroke="#000" stroke-width="3.1" stroke-linecap="butt"/>
<line x1="345.2" y1="856.7" x2="376.8" y2="856.7" stroke="#000" stroke-width="3.1" stroke-linecap="butt"/>
<line x1="199.5" y1="619.9" x2="199.5" y2="962.5" stroke="#000" stroke-width="3.1" stroke-linecap="butt"/>
<line x1="176.7" y1="961.0" x2="427.5" y2="961.0" stroke="#000" stroke-width="3.1" stroke-linecap="butt"/>
<line x1="176.7" y1="961.0" x2="199.5" y2="961.0" stroke="#000" stroke-width="3.1" stroke-linecap="butt"/>
<text x="168.2" y="972.2" font-size="33" text-anchor="end" >0</text>
<line x1="176.7" y1="876.4" x2="199.5" y2="876.4" stroke="#000" stroke-width="3.1" stroke-linecap="butt"/>
<text x="168.2" y="887.6" font-size="33" text-anchor="end" >0.5</text>
<line x1="176.7" y1="791.4" x2="199.5" y2="791.4" stroke="#000" stroke-width="3.1" stroke-linecap="butt"/>
<text x="168.2" y="802.6" font-size="33" text-anchor="end" >1.0</text>
<line x1="176.7" y1="706.4" x2="199.5" y2="706.4" stroke="#000" stroke-width="3.1" stroke-linecap="butt"/>
<text x="168.2" y="717.6" font-size="33" text-anchor="end" >1.5</text>
<line x1="176.7" y1="621.4" x2="199.5" y2="621.4" stroke="#000" stroke-width="3.1" stroke-linecap="butt"/>
<text x="168.2" y="632.6" font-size="33" text-anchor="end" >2.0</text>
<text transform="translate(96.5,791.0) rotate(-90)" font-size="32" text-anchor="middle" >NK cells per spleen (x10<tspan font-size="19" dy="-11">6</tspan><tspan dy="11">)</tspan></text>
<path d="M679.6,883 V722.1 H741.9 V883" fill="#fff" stroke="#000" stroke-width="3.1"/>
<line x1="679.6" y1="925.6" x2="679.6" y2="962.0" stroke="#000" stroke-width="3.1" stroke-linecap="butt"/>
<line x1="741.9" y1="925.6" x2="741.9" y2="962.0" stroke="#000" stroke-width="3.1" stroke-linecap="butt"/>
<path d="M776.9,883 V775.8 H838.8 V883" fill="#fff" stroke="#000" stroke-width="3.1"/>
<line x1="776.9" y1="925.6" x2="776.9" y2="962.0" stroke="#000" stroke-width="3.1" stroke-linecap="butt"/>
<line x1="838.8" y1="925.6" x2="838.8" y2="962.0" stroke="#000" stroke-width="3.1" stroke-linecap="butt"/>
<circle cx="708.6" cy="684.4" r="11.45" fill="#a2a1a6" stroke="#000" stroke-width="3.0"/>
<circle cx="713.4" cy="676.1" r="11.45" fill="#a2a1a6" stroke="#000" stroke-width="3.0"/>
<circle cx="703.8" cy="704.1" r="11.45" fill="#a2a1a6" stroke="#000" stroke-width="3.0"/>
<circle cx="719.1" cy="709.4" r="11.45" fill="#a2a1a6" stroke="#000" stroke-width="3.0"/>
<circle cx="691.9" cy="718.2" r="11.45" fill="#a2a1a6" stroke="#000" stroke-width="3.0"/>
<circle cx="698.5" cy="724.3" r="11.45" fill="#a2a1a6" stroke="#000" stroke-width="3.0"/>
<circle cx="734.0" cy="726.1" r="11.45" fill="#a2a1a6" stroke="#000" stroke-width="3.0"/>
<circle cx="688.4" cy="730.4" r="11.45" fill="#a2a1a6" stroke="#000" stroke-width="3.0"/>
<circle cx="721.8" cy="727.8" r="11.45" fill="#a2a1a6" stroke="#000" stroke-width="3.0"/>
<circle cx="727.9" cy="739.2" r="11.45" fill="#a2a1a6" stroke="#000" stroke-width="3.0"/>
<circle cx="708.6" cy="739.2" r="11.45" fill="#a2a1a6" stroke="#000" stroke-width="3.0"/>
<circle cx="710.8" cy="764.6" r="11.45" fill="#a2a1a6" stroke="#000" stroke-width="3.0"/>
<line x1="678.1" y1="722.1" x2="743.4" y2="722.1" stroke="#000" stroke-width="3.1" stroke-linecap="butt"/>
<line x1="710.8" y1="715.5" x2="710.8" y2="725.2" stroke="#000" stroke-width="3.1" stroke-linecap="butt"/>
<line x1="695.4" y1="715.5" x2="726.6" y2="715.5" stroke="#000" stroke-width="3.1" stroke-linecap="butt"/>
<line x1="695.4" y1="725.2" x2="726.6" y2="725.2" stroke="#000" stroke-width="3.1" stroke-linecap="butt"/>
<circle cx="807.6" cy="734.2" r="11.45" fill="#b855d9" stroke="#000" stroke-width="3.0"/>
<circle cx="800.8" cy="737.8" r="11.45" fill="#b855d9" stroke="#000" stroke-width="3.0"/>
<circle cx="819.8" cy="744.3" r="11.45" fill="#b855d9" stroke="#000" stroke-width="3.0"/>
<circle cx="807.2" cy="752.4" r="11.45" fill="#b855d9" stroke="#000" stroke-width="3.0"/>
<circle cx="830.3" cy="755.2" r="11.45" fill="#b855d9" stroke="#000" stroke-width="3.0"/>
<circle cx="785.4" cy="762.9" r="11.45" fill="#b855d9" stroke="#000" stroke-width="3.0"/>
<circle cx="799.9" cy="760.5" r="11.45" fill="#b855d9" stroke="#000" stroke-width="3.0"/>
<circle cx="821.0" cy="765.3" r="11.45" fill="#b855d9" stroke="#000" stroke-width="3.0"/>
<circle cx="793.5" cy="772.6" r="11.45" fill="#b855d9" stroke="#000" stroke-width="3.0"/>
<circle cx="793.5" cy="784.7" r="11.45" fill="#b855d9" stroke="#000" stroke-width="3.0"/>
<circle cx="804.0" cy="792.8" r="11.45" fill="#b855d9" stroke="#000" stroke-width="3.0"/>
<circle cx="810.5" cy="790.4" r="11.45" fill="#b855d9" stroke="#000" stroke-width="3.0"/>
<circle cx="818.6" cy="788.8" r="11.45" fill="#b855d9" stroke="#000" stroke-width="3.0"/>
<circle cx="806.4" cy="800.9" r="11.45" fill="#b855d9" stroke="#000" stroke-width="3.0"/>
<circle cx="800.8" cy="821.2" r="11.45" fill="#b855d9" stroke="#000" stroke-width="3.0"/>
<circle cx="814.9" cy="817.1" r="11.45" fill="#b855d9" stroke="#000" stroke-width="3.0"/>
<line x1="775.4" y1="775.8" x2="840.3" y2="775.8" stroke="#000" stroke-width="3.1" stroke-linecap="butt"/>
<line x1="807.6" y1="768.6" x2="807.6" y2="780.3" stroke="#000" stroke-width="3.1" stroke-linecap="butt"/>
<line x1="792.5" y1="768.6" x2="823.0" y2="768.6" stroke="#000" stroke-width="3.1" stroke-linecap="butt"/>
<line x1="792.5" y1="780.3" x2="823.0" y2="780.3" stroke="#000" stroke-width="3.1" stroke-linecap="butt"/>
<line x1="646.5" y1="620.5" x2="646.5" y2="883.0" stroke="#000" stroke-width="3.1" stroke-linecap="butt"/>
<line x1="646.5" y1="925.6" x2="646.5" y2="963.5" stroke="#000" stroke-width="3.1" stroke-linecap="butt"/>
<line x1="623.7" y1="962.0" x2="874.2" y2="962.0" stroke="#000" stroke-width="3.1" stroke-linecap="butt"/>
<line x1="623.7" y1="622.0" x2="646.5" y2="622.0" stroke="#000" stroke-width="3.1" stroke-linecap="butt"/>
<text x="617.7" y="632.7" font-size="33" text-anchor="end" >100</text>
<line x1="623.7" y1="688.5" x2="646.5" y2="688.5" stroke="#000" stroke-width="3.1" stroke-linecap="butt"/>
<text x="617.7" y="699.2" font-size="33" text-anchor="end" >90</text>
<line x1="623.7" y1="753.5" x2="646.5" y2="753.5" stroke="#000" stroke-width="3.1" stroke-linecap="butt"/>
<text x="617.7" y="764.2" font-size="33" text-anchor="end" >80</text>
<line x1="623.7" y1="818.4" x2="646.5" y2="818.4" stroke="#000" stroke-width="3.1" stroke-linecap="butt"/>
<text x="617.7" y="829.1" font-size="33" text-anchor="end" >70</text>
<text x="617.7" y="896.7" font-size="33" text-anchor="end" >60</text>
<text x="617.7" y="939.3" font-size="33" text-anchor="end" >10</text>
<text x="617.7" y="972.7" font-size="33" text-anchor="end" >0</text>
<line x1="632.2" y1="899.2" x2="661.0" y2="871.0" stroke="#000" stroke-width="3.1" stroke-linecap="butt"/>
<line x1="632.2" y1="939.3" x2="661.0" y2="911.0" stroke="#000" stroke-width="3.1" stroke-linecap="butt"/>
<line x1="689.0" y1="620.8" x2="837.0" y2="620.8" stroke="#000" stroke-width="2.4" stroke-linecap="butt"/>
<text x="761.8" y="610.5" font-size="27" text-anchor="middle" >&lt;0.0001</text>
<text transform="translate(554.5,794.0) rotate(-90)" font-size="32" text-anchor="middle" >Spleen NK cells Ki67<tspan font-size="19" dy="-11">+</tspan><tspan dy="11"> (%)</tspan></text>
<path d="M1178.9,956.4 V929.0 H1220.6 V956.4" fill="#fff" stroke="#000" stroke-width="3.1" stroke-linejoin="miter"/>
<path d="M1244.9,956.4 V908.8 H1287.0 V956.4" fill="#fff" stroke="#000" stroke-width="3.1" stroke-linejoin="miter"/>
<path d="M1355.8,956.4 V939.9 H1397.5 V956.4" fill="#fff" stroke="#000" stroke-width="3.1" stroke-linejoin="miter"/>
<path d="M1422.6,956.4 V903.8 H1464.3 V956.4" fill="#fff" stroke="#000" stroke-width="3.1" stroke-linejoin="miter"/>
<path d="M1533.2,956.4 V687.1 H1575.2 V956.4" fill="#fff" stroke="#000" stroke-width="3.1" stroke-linejoin="miter"/>
<path d="M1599.5,956.4 V735.2 H1641.5 V956.4" fill="#fff" stroke="#000" stroke-width="3.1" stroke-linejoin="miter"/>
<circle cx="1199.5" cy="895.9" r="11.45" fill="#808080" stroke="#000" stroke-width="3.0"/>
<circle cx="1202.0" cy="915.7" r="11.45" fill="#808080" stroke="#000" stroke-width="3.0"/>
<circle cx="1190.6" cy="923.8" r="11.45" fill="#808080" stroke="#000" stroke-width="3.0"/>
<circle cx="1193.5" cy="931.5" r="11.45" fill="#808080" stroke="#000" stroke-width="3.0"/>
<circle cx="1211.3" cy="932.3" r="11.45" fill="#808080" stroke="#000" stroke-width="3.0"/>
<circle cx="1188.2" cy="936.3" r="11.45" fill="#808080" stroke="#000" stroke-width="3.0"/>
<circle cx="1208.9" cy="941.2" r="11.45" fill="#808080" stroke="#000" stroke-width="3.0"/>
<circle cx="1206.4" cy="938.8" r="11.45" fill="#808080" stroke="#000" stroke-width="3.0"/>
<circle cx="1196.7" cy="945.2" r="11.45" fill="#808080" stroke="#000" stroke-width="3.0"/>
<line x1="1177.4" y1="929.0" x2="1222.1" y2="929.0" stroke="#000" stroke-width="3.1" stroke-linecap="butt"/>
<line x1="1199.0" y1="925.0" x2="1199.0" y2="932.0" stroke="#000" stroke-width="3.1" stroke-linecap="butt"/>
<line x1="1188.6" y1="925.0" x2="1209.7" y2="925.0" stroke="#000" stroke-width="3.1" stroke-linecap="butt"/>
<line x1="1188.6" y1="932.0" x2="1209.7" y2="932.0" stroke="#000" stroke-width="3.1" stroke-linecap="butt"/>
<circle cx="1265.5" cy="864.3" r="11.45" fill="#b855d9" stroke="#000" stroke-width="3.0"/>
<circle cx="1272.8" cy="885.3" r="11.45" fill="#b855d9" stroke="#000" stroke-width="3.0"/>
<circle cx="1259.4" cy="891.8" r="11.45" fill="#b855d9" stroke="#000" stroke-width="3.0"/>
<circle cx="1264.3" cy="899.1" r="11.45" fill="#b855d9" stroke="#000" stroke-width="3.0"/>
<circle cx="1273.6" cy="917.7" r="11.45" fill="#b855d9" stroke="#000" stroke-width="3.0"/>
<circle cx="1256.6" cy="916.9" r="11.45" fill="#b855d9" stroke="#000" stroke-width="3.0"/>
<circle cx="1275.2" cy="929.0" r="11.45" fill="#b855d9" stroke="#000" stroke-width="3.0"/>
<circle cx="1264.7" cy="932.3" r="11.45" fill="#b855d9" stroke="#000" stroke-width="3.0"/>
<circle cx="1255.0" cy="927.4" r="11.45" fill="#b855d9" stroke="#000" stroke-width="3.0"/>
<circle cx="1259.0" cy="920.1" r="11.45" fill="#b855d9" stroke="#000" stroke-width="3.0"/>
<line x1="1243.4" y1="908.8" x2="1288.5" y2="908.8" stroke="#000" stroke-width="3.1" stroke-linecap="butt"/>
<line x1="1265.5" y1="905.5" x2="1265.5" y2="912.0" stroke="#000" stroke-width="3.1" stroke-linecap="butt"/>
<line x1="1255.0" y1="905.5" x2="1276.0" y2="905.5" stroke="#000" stroke-width="3.1" stroke-linecap="butt"/>
<line x1="1255.0" y1="912.0" x2="1276.0" y2="912.0" stroke="#000" stroke-width="3.1" stroke-linecap="butt"/>
<circle cx="1376.4" cy="923.7" r="11.45" fill="#808080" stroke="#000" stroke-width="3.0"/>
<circle cx="1365.1" cy="929.8" r="11.45" fill="#808080" stroke="#000" stroke-width="3.0"/>
<circle cx="1388.6" cy="930.2" r="11.45" fill="#808080" stroke="#000" stroke-width="3.0"/>
<circle cx="1372.4" cy="933.4" r="11.45" fill="#808080" stroke="#000" stroke-width="3.0"/>
<circle cx="1362.7" cy="942.3" r="11.45" fill="#808080" stroke="#000" stroke-width="3.0"/>
<circle cx="1385.3" cy="939.1" r="11.45" fill="#808080" stroke="#000" stroke-width="3.0"/>
<circle cx="1376.0" cy="949.6" r="11.45" fill="#808080" stroke="#000" stroke-width="3.0"/>
<circle cx="1371.2" cy="951.2" r="11.45" fill="#808080" stroke="#000" stroke-width="3.0"/>
<line x1="1354.2" y1="939.9" x2="1399.0" y2="939.9" stroke="#000" stroke-width="3.1" stroke-linecap="butt"/>
<line x1="1376.4" y1="937.5" x2="1376.4" y2="942.0" stroke="#000" stroke-width="3.1" stroke-linecap="butt"/>
<line x1="1366.0" y1="937.5" x2="1387.0" y2="937.5" stroke="#000" stroke-width="3.1" stroke-linecap="butt"/>
<line x1="1366.0" y1="942.0" x2="1387.0" y2="942.0" stroke="#000" stroke-width="3.1" stroke-linecap="butt"/>
<circle cx="1442.4" cy="879.1" r="11.45" fill="#b855d9" stroke="#000" stroke-width="3.0"/>
<circle cx="1427.4" cy="900.2" r="11.45" fill="#b855d9" stroke="#000" stroke-width="3.0"/>
<circle cx="1456.6" cy="898.6" r="11.45" fill="#b855d9" stroke="#000" stroke-width="3.0"/>
<circle cx="1439.2" cy="894.5" r="11.45" fill="#b855d9" stroke="#000" stroke-width="3.0"/>
<circle cx="1446.1" cy="900.2" r="11.45" fill="#b855d9" stroke="#000" stroke-width="3.0"/>
<circle cx="1437.2" cy="918.0" r="11.45" fill="#b855d9" stroke="#000" stroke-width="3.0"/>
<circle cx="1444.5" cy="916.4" r="11.45" fill="#b855d9" stroke="#000" stroke-width="3.0"/>
<line x1="1421.0" y1="903.8" x2="1465.8" y2="903.8" stroke="#000" stroke-width="3.1" stroke-linecap="butt"/>
<line x1="1443.0" y1="899.4" x2="1443.0" y2="907.0" stroke="#000" stroke-width="3.1" stroke-linecap="butt"/>
<line x1="1432.0" y1="899.4" x2="1454.0" y2="899.4" stroke="#000" stroke-width="3.1" stroke-linecap="butt"/>
<line x1="1432.0" y1="907.0" x2="1454.0" y2="907.0" stroke="#000" stroke-width="3.1" stroke-linecap="butt"/>
<circle cx="1553.9" cy="658.7" r="11.45" fill="#808080" stroke="#000" stroke-width="3.0"/>
<circle cx="1567.6" cy="669.4" r="11.45" fill="#808080" stroke="#000" stroke-width="3.0"/>
<circle cx="1542.8" cy="678.0" r="11.45" fill="#808080" stroke="#000" stroke-width="3.0"/>
<circle cx="1550.4" cy="672.4" r="11.45" fill="#808080" stroke="#000" stroke-width="3.0"/>
<circle cx="1554.4" cy="689.6" r="11.45" fill="#808080" stroke="#000" stroke-width="3.0"/>
<circle cx="1562.5" cy="696.7" r="11.45" fill="#808080" stroke="#000" stroke-width="3.0"/>
<circle cx="1547.3" cy="698.7" r="11.45" fill="#808080" stroke="#000" stroke-width="3.0"/>
<circle cx="1557.5" cy="704.8" r="11.45" fill="#808080" stroke="#000" stroke-width="3.0"/>
<circle cx="1553.9" cy="729.1" r="11.45" fill="#808080" stroke="#000" stroke-width="3.0"/>
<line x1="1531.7" y1="687.1" x2="1576.8" y2="687.1" stroke="#000" stroke-width="3.1" stroke-linecap="butt"/>
<line x1="1554.0" y1="684.5" x2="1554.0" y2="690.1" stroke="#000" stroke-width="3.1" stroke-linecap="butt"/>
<line x1="1544.0" y1="684.5" x2="1565.0" y2="684.5" stroke="#000" stroke-width="3.1" stroke-linecap="butt"/>
<line x1="1544.0" y1="690.1" x2="1565.0" y2="690.1" stroke="#000" stroke-width="3.1" stroke-linecap="butt"/>
<circle cx="1625.3" cy="705.8" r="11.45" fill="#b855d9" stroke="#000" stroke-width="3.0"/>
<circle cx="1613.1" cy="714.9" r="11.45" fill="#b855d9" stroke="#000" stroke-width="3.0"/>
<circle cx="1627.3" cy="722.0" r="11.45" fill="#b855d9" stroke="#000" stroke-width="3.0"/>
<circle cx="1609.1" cy="733.1" r="11.45" fill="#b855d9" stroke="#000" stroke-width="3.0"/>
<circle cx="1632.4" cy="737.2" r="11.45" fill="#b855d9" stroke="#000" stroke-width="3.0"/>
<circle cx="1613.1" cy="750.3" r="11.45" fill="#b855d9" stroke="#000" stroke-width="3.0"/>
<circle cx="1621.2" cy="756.4" r="11.45" fill="#b855d9" stroke="#000" stroke-width="3.0"/>
<circle cx="1625.3" cy="744.3" r="11.45" fill="#b855d9" stroke="#000" stroke-width="3.0"/>
<circle cx="1619.2" cy="771.6" r="11.45" fill="#b855d9" stroke="#000" stroke-width="3.0"/>
<line x1="1598.0" y1="735.2" x2="1643.0" y2="735.2" stroke="#000" stroke-width="3.1" stroke-linecap="butt"/>
<line x1="1620.0" y1="729.0" x2="1620.0" y2="739.5" stroke="#000" stroke-width="3.1" stroke-linecap="butt"/>
<line x1="1609.0" y1="729.0" x2="1631.0" y2="729.0" stroke="#000" stroke-width="3.1" stroke-linecap="butt"/>
<line x1="1609.0" y1="739.5" x2="1631.0" y2="739.5" stroke="#000" stroke-width="3.1" stroke-linecap="butt"/>
<line x1="1155.0" y1="613.8" x2="1155.0" y2="957.9" stroke="#000" stroke-width="3.1" stroke-linecap="butt"/>
<line x1="1132.2" y1="956.4" x2="1666.0" y2="956.4" stroke="#000" stroke-width="3.1" stroke-linecap="butt"/>
<line x1="1132.2" y1="956.4" x2="1155.0" y2="956.4" stroke="#000" stroke-width="3.1" stroke-linecap="butt"/>
<text x="1127.2" y="967.6" font-size="33" text-anchor="end" >0</text>
<line x1="1132.2" y1="888.2" x2="1155.0" y2="888.2" stroke="#000" stroke-width="3.1" stroke-linecap="butt"/>
<text x="1127.2" y="899.4" font-size="33" text-anchor="end" >20</text>
<line x1="1132.2" y1="820.0" x2="1155.0" y2="820.0" stroke="#000" stroke-width="3.1" stroke-linecap="butt"/>
<text x="1127.2" y="831.2" font-size="33" text-anchor="end" >40</text>
<line x1="1132.2" y1="751.7" x2="1155.0" y2="751.7" stroke="#000" stroke-width="3.1" stroke-linecap="butt"/>
<text x="1127.2" y="762.9" font-size="33" text-anchor="end" >60</text>
<line x1="1132.2" y1="683.5" x2="1155.0" y2="683.5" stroke="#000" stroke-width="3.1" stroke-linecap="butt"/>
<text x="1127.2" y="694.7" font-size="33" text-anchor="end" >80</text>
<line x1="1132.2" y1="615.3" x2="1155.0" y2="615.3" stroke="#000" stroke-width="3.1" stroke-linecap="butt"/>
<text x="1127.2" y="626.5" font-size="33" text-anchor="end" >100</text>
<line x1="1232.3" y1="956.4" x2="1232.3" y2="978.4" stroke="#000" stroke-width="3.1" stroke-linecap="butt"/>
<line x1="1409.3" y1="956.4" x2="1409.3" y2="978.4" stroke="#000" stroke-width="3.1" stroke-linecap="butt"/>
<line x1="1586.3" y1="956.4" x2="1586.3" y2="978.4" stroke="#000" stroke-width="3.1" stroke-linecap="butt"/>
<line x1="1179.0" y1="622.9" x2="1286.4" y2="622.9" stroke="#000" stroke-width="2.4" stroke-linecap="butt"/>
<text x="1232.3" y="612.5" font-size="27" text-anchor="middle" >0.0007</text>
<line x1="1354.9" y1="622.9" x2="1462.6" y2="622.9" stroke="#000" stroke-width="2.4" stroke-linecap="butt"/>
<text x="1407.7" y="612.5" font-size="27" text-anchor="middle" >&lt;0.0001</text>
<line x1="1531.0" y1="622.9" x2="1638.0" y2="622.9" stroke="#000" stroke-width="2.4" stroke-linecap="butt"/>
<text x="1583.0" y="611.0" font-size="27" text-anchor="middle" >&lt;0.0001</text>
<text x="1233.5" y="1013.7" font-size="32" text-anchor="middle" >Less mature</text>
<text x="1408.5" y="1013.7" font-size="32" text-anchor="middle" >M1</text>
<text x="1586.3" y="1013.7" font-size="32" text-anchor="middle" >M2</text>
<text transform="translate(1050.0,790.0) rotate(-90)" font-size="32" text-anchor="middle" >% of spleen NK cells</text>
<circle cx="1762.6" cy="626.2" r="11.95" fill="#808080" stroke="#000" stroke-width="3.4"/>
<circle cx="1762.6" cy="689.6" r="11.95" fill="#b855d9" stroke="#000" stroke-width="3.4"/>
<text x="1800.7" y="638.9" font-size="32" font-style="italic">Ncr1<tspan font-size="20" dy="-11">cre</tspan></text>
<text x="1800.7" y="700.8" font-size="32" font-style="italic">Ncr1<tspan font-size="20" dy="-11">cre</tspan><tspan dy="11">Tnfr1</tspan><tspan font-size="18" dy="-10.5">fl/fl</tspan></text>
<text x="1803" y="739.9" font-size="32" font-style="italic">Tnfr2<tspan font-size="18" dy="-10.5">fl/fl</tspan></text>
<path d="M233.0,1461.3 V1272.4 H294.4 V1461.3" fill="#fff" stroke="#000" stroke-width="3.1" stroke-linejoin="miter"/>
<path d="M330.1,1461.3 V1321.6 H391.4 V1461.3" fill="#fff" stroke="#000" stroke-width="3.1" stroke-linejoin="miter"/>
<circle cx="268.6" cy="1202.4" r="11.45" fill="#a2a1a6" stroke="#000" stroke-width="3.0"/>
<circle cx="257.7" cy="1206.4" r="11.45" fill="#a2a1a6" stroke="#000" stroke-width="3.0"/>
<circle cx="274.4" cy="1231.6" r="11.45" fill="#a2a1a6" stroke="#000" stroke-width="3.0"/>
<circle cx="242.8" cy="1241.4" r="11.45" fill="#a2a1a6" stroke="#000" stroke-width="3.0"/>
<circle cx="264.0" cy="1236.2" r="11.45" fill="#a2a1a6" stroke="#000" stroke-width="3.0"/>
<circle cx="262.9" cy="1260.3" r="11.45" fill="#a2a1a6" stroke="#000" stroke-width="3.0"/>
<circle cx="273.8" cy="1261.5" r="11.45" fill="#a2a1a6" stroke="#000" stroke-width="3.0"/>
<circle cx="242.8" cy="1267.2" r="11.45" fill="#a2a1a6" stroke="#000" stroke-width="3.0"/>
<circle cx="285.8" cy="1276.4" r="11.45" fill="#a2a1a6" stroke="#000" stroke-width="3.0"/>
<circle cx="253.7" cy="1274.1" r="11.45" fill="#a2a1a6" stroke="#000" stroke-width="3.0"/>
<circle cx="273.8" cy="1285.6" r="11.45" fill="#a2a1a6" stroke="#000" stroke-width="3.0"/>
<circle cx="242.2" cy="1294.8" r="11.45" fill="#a2a1a6" stroke="#000" stroke-width="3.0"/>
<circle cx="253.1" cy="1301.7" r="11.45" fill="#a2a1a6" stroke="#000" stroke-width="3.0"/>
<circle cx="284.7" cy="1300.5" r="11.45" fill="#a2a1a6" stroke="#000" stroke-width="3.0"/>
<circle cx="274.4" cy="1315.4" r="11.45" fill="#a2a1a6" stroke="#000" stroke-width="3.0"/>
<circle cx="264.0" cy="1313.7" r="11.45" fill="#a2a1a6" stroke="#000" stroke-width="3.0"/>
<circle cx="253.1" cy="1331.5" r="11.45" fill="#a2a1a6" stroke="#000" stroke-width="3.0"/>
<line x1="231.4" y1="1272.4" x2="295.9" y2="1272.4" stroke="#000" stroke-width="3.1" stroke-linecap="butt"/>
<line x1="264.0" y1="1261.7" x2="264.0" y2="1280.4" stroke="#000" stroke-width="3.1" stroke-linecap="butt"/>
<line x1="248.5" y1="1261.7" x2="279.5" y2="1261.7" stroke="#000" stroke-width="3.1" stroke-linecap="butt"/>
<line x1="248.5" y1="1280.4" x2="279.5" y2="1280.4" stroke="#000" stroke-width="3.1" stroke-linecap="butt"/>
<circle cx="361.0" cy="1254.3" r="11.45" fill="#b855d9" stroke="#000" stroke-width="3.0"/>
<circle cx="352.9" cy="1286.7" r="11.45" fill="#b855d9" stroke="#000" stroke-width="3.0"/>
<circle cx="365.1" cy="1288.2" r="11.45" fill="#b855d9" stroke="#000" stroke-width="3.0"/>
<circle cx="351.4" cy="1294.8" r="11.45" fill="#b855d9" stroke="#000" stroke-width="3.0"/>
<circle cx="343.3" cy="1309.0" r="11.45" fill="#b855d9" stroke="#000" stroke-width="3.0"/>
<circle cx="378.2" cy="1304.4" r="11.45" fill="#b855d9" stroke="#000" stroke-width="3.0"/>
<circle cx="361.0" cy="1314.1" r="11.45" fill="#b855d9" stroke="#000" stroke-width="3.0"/>
<circle cx="351.4" cy="1327.2" r="11.45" fill="#b855d9" stroke="#000" stroke-width="3.0"/>
<circle cx="370.6" cy="1332.3" r="11.45" fill="#b855d9" stroke="#000" stroke-width="3.0"/>
<circle cx="348.4" cy="1340.4" r="11.45" fill="#b855d9" stroke="#000" stroke-width="3.0"/>
<circle cx="365.1" cy="1340.9" r="11.45" fill="#b855d9" stroke="#000" stroke-width="3.0"/>
<circle cx="382.8" cy="1341.4" r="11.45" fill="#b855d9" stroke="#000" stroke-width="3.0"/>
<circle cx="356.5" cy="1354.6" r="11.45" fill="#b855d9" stroke="#000" stroke-width="3.0"/>
<circle cx="340.3" cy="1360.6" r="11.45" fill="#b855d9" stroke="#000" stroke-width="3.0"/>
<circle cx="373.2" cy="1361.6" r="11.45" fill="#b855d9" stroke="#000" stroke-width="3.0"/>
<line x1="328.6" y1="1321.6" x2="392.9" y2="1321.6" stroke="#000" stroke-width="3.1" stroke-linecap="butt"/>
<line x1="361.0" y1="1313.5" x2="361.0" y2="1327.2" stroke="#000" stroke-width="3.1" stroke-linecap="butt"/>
<line x1="345.3" y1="1313.5" x2="376.2" y2="1313.5" stroke="#000" stroke-width="3.1" stroke-linecap="butt"/>
<line x1="345.3" y1="1327.2" x2="376.2" y2="1327.2" stroke="#000" stroke-width="3.1" stroke-linecap="butt"/>
<line x1="199.8" y1="1119.4" x2="199.8" y2="1462.8" stroke="#000" stroke-width="3.1" stroke-linecap="butt"/>
<line x1="176.9" y1="1461.3" x2="427.0" y2="1461.3" stroke="#000" stroke-width="3.1" stroke-linecap="butt"/>
<line x1="176.9" y1="1461.3" x2="199.8" y2="1461.3" stroke="#000" stroke-width="3.1" stroke-linecap="butt"/>
<text x="171.9" y="1472.5" font-size="33" text-anchor="end" >0</text>
<line x1="176.9" y1="1393.2" x2="199.8" y2="1393.2" stroke="#000" stroke-width="3.1" stroke-linecap="butt"/>
<text x="171.9" y="1404.4" font-size="33" text-anchor="end" >20</text>
<line x1="176.9" y1="1325.1" x2="199.8" y2="1325.1" stroke="#000" stroke-width="3.1" stroke-linecap="butt"/>
<text x="171.9" y="1336.3" font-size="33" text-anchor="end" >40</text>
<line x1="176.9" y1="1257.1" x2="199.8" y2="1257.1" stroke="#000" stroke-width="3.1" stroke-linecap="butt"/>
<text x="171.9" y="1268.3" font-size="33" text-anchor="end" >60</text>
<line x1="176.9" y1="1189.0" x2="199.8" y2="1189.0" stroke="#000" stroke-width="3.1" stroke-linecap="butt"/>
<text x="171.9" y="1200.2" font-size="33" text-anchor="end" >80</text>
<line x1="176.9" y1="1120.9" x2="199.8" y2="1120.9" stroke="#000" stroke-width="3.1" stroke-linecap="butt"/>
<text x="171.9" y="1132.1" font-size="33" text-anchor="end" >100</text>
<line x1="250.7" y1="1109.3" x2="398.6" y2="1109.3" stroke="#000" stroke-width="2.4" stroke-linecap="butt"/>
<text x="324.2" y="1099.5" font-size="27" text-anchor="middle" >0.0002</text>
<text transform="translate(92.5,1291.0) rotate(-90)" font-size="32" text-anchor="middle" >Spleen NK cells CD69<tspan font-size="19" dy="-11">+</tspan><tspan dy="11"> (%)</tspan></text>
<path d="M700.8,1463.1 V1316.7 H762.3 V1463.1" fill="#fff" stroke="#000" stroke-width="3.1" stroke-linejoin="miter"/>
<path d="M797.7,1463.1 V1323.1 H858.6 V1463.1" fill="#fff" stroke="#000" stroke-width="3.1" stroke-linejoin="miter"/>
<circle cx="731.5" cy="1275.6" r="11.45" fill="#b0afb2" stroke="#000" stroke-width="3.0"/>
<circle cx="710.5" cy="1292.4" r="11.45" fill="#b0afb2" stroke="#000" stroke-width="3.0"/>
<circle cx="721.3" cy="1288.6" r="11.45" fill="#b0afb2" stroke="#000" stroke-width="3.0"/>
<circle cx="753.7" cy="1290.2" r="11.45" fill="#b0afb2" stroke="#000" stroke-width="3.0"/>
<circle cx="741.8" cy="1294.5" r="11.45" fill="#b0afb2" stroke="#000" stroke-width="3.0"/>
<circle cx="721.3" cy="1310.7" r="11.45" fill="#b0afb2" stroke="#000" stroke-width="3.0"/>
<circle cx="737.5" cy="1318.3" r="11.45" fill="#b0afb2" stroke="#000" stroke-width="3.0"/>
<circle cx="752.6" cy="1318.3" r="11.45" fill="#b0afb2" stroke="#000" stroke-width="3.0"/>
<circle cx="710.5" cy="1323.7" r="11.45" fill="#b0afb2" stroke="#000" stroke-width="3.0"/>
<circle cx="731.0" cy="1320.4" r="11.45" fill="#b0afb2" stroke="#000" stroke-width="3.0"/>
<circle cx="747.2" cy="1336.6" r="11.45" fill="#b0afb2" stroke="#000" stroke-width="3.0"/>
<circle cx="715.9" cy="1343.6" r="11.45" fill="#b0afb2" stroke="#000" stroke-width="3.0"/>
<circle cx="736.9" cy="1338.8" r="11.45" fill="#b0afb2" stroke="#000" stroke-width="3.0"/>
<circle cx="731.5" cy="1358.2" r="11.45" fill="#b0afb2" stroke="#000" stroke-width="3.0"/>
<circle cx="731.5" cy="1398.1" r="11.45" fill="#b0afb2" stroke="#000" stroke-width="3.0"/>
<line x1="699.2" y1="1316.7" x2="763.8" y2="1316.7" stroke="#000" stroke-width="3.1" stroke-linecap="butt"/>
<line x1="731.5" y1="1309.4" x2="731.5" y2="1322.4" stroke="#000" stroke-width="3.1" stroke-linecap="butt"/>
<line x1="714.8" y1="1309.4" x2="748.8" y2="1309.4" stroke="#000" stroke-width="3.1" stroke-linecap="butt"/>
<line x1="714.8" y1="1322.4" x2="748.8" y2="1322.4" stroke="#000" stroke-width="3.1" stroke-linecap="butt"/>
<circle cx="827.8" cy="1267.9" r="11.45" fill="#c472e0" stroke="#000" stroke-width="3.0"/>
<circle cx="811.2" cy="1291.0" r="11.45" fill="#c472e0" stroke="#000" stroke-width="3.0"/>
<circle cx="843.8" cy="1294.2" r="11.45" fill="#c472e0" stroke="#000" stroke-width="3.0"/>
<circle cx="835.5" cy="1301.3" r="11.45" fill="#c472e0" stroke="#000" stroke-width="3.0"/>
<circle cx="818.2" cy="1306.4" r="11.45" fill="#c472e0" stroke="#000" stroke-width="3.0"/>
<circle cx="849.0" cy="1318.0" r="11.45" fill="#c472e0" stroke="#000" stroke-width="3.0"/>
<circle cx="808.0" cy="1326.9" r="11.45" fill="#c472e0" stroke="#000" stroke-width="3.0"/>
<circle cx="824.6" cy="1333.3" r="11.45" fill="#c472e0" stroke="#000" stroke-width="3.0"/>
<circle cx="841.3" cy="1334.6" r="11.45" fill="#c472e0" stroke="#000" stroke-width="3.0"/>
<circle cx="815.6" cy="1351.3" r="11.45" fill="#c472e0" stroke="#000" stroke-width="3.0"/>
<circle cx="832.3" cy="1350.0" r="11.45" fill="#c472e0" stroke="#000" stroke-width="3.0"/>
<circle cx="827.8" cy="1423.7" r="11.45" fill="#c472e0" stroke="#000" stroke-width="3.0"/>
<line x1="796.2" y1="1323.1" x2="860.1" y2="1323.1" stroke="#000" stroke-width="3.1" stroke-linecap="butt"/>
<line x1="828.0" y1="1313.5" x2="828.0" y2="1329.5" stroke="#000" stroke-width="3.1" stroke-linecap="butt"/>
<line x1="811.2" y1="1313.5" x2="844.5" y2="1313.5" stroke="#000" stroke-width="3.1" stroke-linecap="butt"/>
<line x1="811.2" y1="1329.5" x2="844.5" y2="1329.5" stroke="#000" stroke-width="3.1" stroke-linecap="butt"/>
<line x1="668.4" y1="1125.8" x2="668.4" y2="1464.6" stroke="#000" stroke-width="3.1" stroke-linecap="butt"/>
<line x1="645.2" y1="1463.1" x2="892.2" y2="1463.1" stroke="#000" stroke-width="3.1" stroke-linecap="butt"/>
<line x1="645.2" y1="1127.3" x2="668.4" y2="1127.3" stroke="#000" stroke-width="3.1" stroke-linecap="butt"/>
<text x="639.2" y="1138.5" font-size="33" text-anchor="end">10<tspan font-size="23.5" dy="-11.8">8</tspan></text>
<line x1="645.2" y1="1296.0" x2="668.4" y2="1296.0" stroke="#000" stroke-width="3.1" stroke-linecap="butt"/>
<text x="639.2" y="1307.2" font-size="33" text-anchor="end">10<tspan font-size="23.5" dy="-11.8">7</tspan></text>
<line x1="645.2" y1="1463.1" x2="668.4" y2="1463.1" stroke="#000" stroke-width="3.1" stroke-linecap="butt"/>
<text x="639.2" y="1474.3" font-size="33" text-anchor="end">10<tspan font-size="23.5" dy="-11.8">6</tspan></text>
<text transform="translate(555.6,1276.3) rotate(-90)" font-size="32" text-anchor="middle" textLength="214" lengthAdjust="spacingAndGlyphs">CFU per spleen</text>
<path d="M1187.6,1463.1 V1282.5 H1249.4 V1463.1" fill="#fff" stroke="#000" stroke-width="3.1" stroke-linejoin="miter"/>
<path d="M1284.1,1463.1 V1295.7 H1344.9 V1463.1" fill="#fff" stroke="#000" stroke-width="3.1" stroke-linejoin="miter"/>
<circle cx="1214.9" cy="1218.2" r="11.45" fill="#b0afb2" stroke="#000" stroke-width="3.0"/>
<circle cx="1221.5" cy="1220.3" r="11.45" fill="#b0afb2" stroke="#000" stroke-width="3.0"/>
<circle cx="1221.5" cy="1268.9" r="11.45" fill="#b0afb2" stroke="#000" stroke-width="3.0"/>
<circle cx="1214.9" cy="1282.0" r="11.45" fill="#b0afb2" stroke="#000" stroke-width="3.0"/>
<circle cx="1203.3" cy="1292.2" r="11.45" fill="#b0afb2" stroke="#000" stroke-width="3.0"/>
<circle cx="1218.5" cy="1294.2" r="11.45" fill="#b0afb2" stroke="#000" stroke-width="3.0"/>
<circle cx="1233.7" cy="1297.2" r="11.45" fill="#b0afb2" stroke="#000" stroke-width="3.0"/>
<circle cx="1240.8" cy="1298.2" r="11.45" fill="#b0afb2" stroke="#000" stroke-width="3.0"/>
<circle cx="1197.7" cy="1304.3" r="11.45" fill="#b0afb2" stroke="#000" stroke-width="3.0"/>
<circle cx="1228.6" cy="1330.6" r="11.45" fill="#b0afb2" stroke="#000" stroke-width="3.0"/>
<circle cx="1201.8" cy="1322.5" r="11.45" fill="#b0afb2" stroke="#000" stroke-width="3.0"/>
<circle cx="1214.9" cy="1321.0" r="11.45" fill="#b0afb2" stroke="#000" stroke-width="3.0"/>
<circle cx="1235.7" cy="1318.5" r="11.45" fill="#b0afb2" stroke="#000" stroke-width="3.0"/>
<line x1="1186.0" y1="1282.5" x2="1251.0" y2="1282.5" stroke="#000" stroke-width="3.1" stroke-linecap="butt"/>
<line x1="1218.5" y1="1270.4" x2="1218.5" y2="1294.7" stroke="#000" stroke-width="3.1" stroke-linecap="butt"/>
<line x1="1201.8" y1="1270.4" x2="1235.2" y2="1270.4" stroke="#000" stroke-width="3.1" stroke-linecap="butt"/>
<line x1="1201.8" y1="1294.7" x2="1235.2" y2="1294.7" stroke="#000" stroke-width="3.1" stroke-linecap="butt"/>
<circle cx="1322.1" cy="1261.3" r="11.45" fill="#c472e0" stroke="#000" stroke-width="3.0"/>
<circle cx="1293.2" cy="1280.5" r="11.45" fill="#c472e0" stroke="#000" stroke-width="3.0"/>
<circle cx="1311.5" cy="1274.4" r="11.45" fill="#c472e0" stroke="#000" stroke-width="3.0"/>
<circle cx="1330.7" cy="1287.6" r="11.45" fill="#c472e0" stroke="#000" stroke-width="3.0"/>
<circle cx="1336.8" cy="1295.2" r="11.45" fill="#c472e0" stroke="#000" stroke-width="3.0"/>
<circle cx="1298.3" cy="1302.8" r="11.45" fill="#c472e0" stroke="#000" stroke-width="3.0"/>
<circle cx="1314.0" cy="1294.7" r="11.45" fill="#c472e0" stroke="#000" stroke-width="3.0"/>
<circle cx="1319.6" cy="1301.8" r="11.45" fill="#c472e0" stroke="#000" stroke-width="3.0"/>
<circle cx="1322.6" cy="1312.9" r="11.45" fill="#c472e0" stroke="#000" stroke-width="3.0"/>
<circle cx="1314.5" cy="1309.9" r="11.45" fill="#c472e0" stroke="#000" stroke-width="3.0"/>
<circle cx="1309.9" cy="1326.1" r="11.45" fill="#c472e0" stroke="#000" stroke-width="3.0"/>
<circle cx="1314.4" cy="1416.5" r="11.45" fill="#c472e0" stroke="#000" stroke-width="3.0"/>
<line x1="1282.5" y1="1295.7" x2="1346.5" y2="1295.7" stroke="#000" stroke-width="3.1" stroke-linecap="butt"/>
<line x1="1314.0" y1="1289.6" x2="1314.0" y2="1299.7" stroke="#000" stroke-width="3.1" stroke-linecap="butt"/>
<line x1="1299.3" y1="1289.6" x2="1330.7" y2="1289.6" stroke="#000" stroke-width="3.1" stroke-linecap="butt"/>
<line x1="1299.3" y1="1299.7" x2="1330.7" y2="1299.7" stroke="#000" stroke-width="3.1" stroke-linecap="butt"/>
<line x1="1155.0" y1="1125.8" x2="1155.0" y2="1464.6" stroke="#000" stroke-width="3.1" stroke-linecap="butt"/>
<line x1="1132.4" y1="1463.1" x2="1379.4" y2="1463.1" stroke="#000" stroke-width="3.1" stroke-linecap="butt"/>
<line x1="1132.4" y1="1127.3" x2="1155.0" y2="1127.3" stroke="#000" stroke-width="3.1" stroke-linecap="butt"/>
<text x="1126.4" y="1138.5" font-size="33" text-anchor="end">10<tspan font-size="23.5" dy="-11.8">8</tspan></text>
<line x1="1132.4" y1="1239.2" x2="1155.0" y2="1239.2" stroke="#000" stroke-width="3.1" stroke-linecap="butt"/>
<text x="1126.4" y="1250.4" font-size="33" text-anchor="end">10<tspan font-size="23.5" dy="-11.8">7</tspan></text>
<line x1="1132.4" y1="1351.2" x2="1155.0" y2="1351.2" stroke="#000" stroke-width="3.1" stroke-linecap="butt"/>
<text x="1126.4" y="1362.4" font-size="33" text-anchor="end">10<tspan font-size="23.5" dy="-11.8">6</tspan></text>
<line x1="1132.4" y1="1463.1" x2="1155.0" y2="1463.1" stroke="#000" stroke-width="3.1" stroke-linecap="butt"/>
<text x="1126.4" y="1474.3" font-size="33" text-anchor="end">10<tspan font-size="23.5" dy="-11.8">5</tspan></text>
<text transform="translate(1038.0,1276.3) rotate(-90)" font-size="32" text-anchor="middle" textLength="179" lengthAdjust="spacingAndGlyphs">CFU per liver</text>
<circle cx="1429.9" cy="1149" r="11.95" fill="#b0afb2" stroke="#000" stroke-width="3.4"/>
<circle cx="1429.9" cy="1207" r="11.95" fill="#c472e0" stroke="#000" stroke-width="3.4"/>
<text x="1474.7" y="1160" font-size="32" font-style="italic">Ncr1<tspan font-size="20" dy="-11">cre</tspan></text>
<text x="1474.7" y="1216" font-size="32" font-style="italic">Ncr1<tspan font-size="20" dy="-11">cre</tspan><tspan dy="11">Tnfr1</tspan><tspan font-size="18" dy="-10.5">fl/fl</tspan></text>
<text x="1476.5" y="1254.6" font-size="32" font-style="italic">Tnfr2<tspan font-size="18" dy="-10.5">fl/fl</tspan></text>
<text x="-2.0" y="40.0" font-size="55" font-weight="bold">a</text>
<text x="914.5" y="40.0" font-size="55" font-weight="bold">b</text>
<text x="1355.0" y="40.0" font-size="55" font-weight="bold">c</text>
<text x="3.0" y="595.0" font-size="55" font-weight="bold">d</text>
<text x="462.0" y="595.0" font-size="55" font-weight="bold">e</text>
<text x="916.0" y="594.0" font-size="55" font-weight="bold">f</text>
<text x="3.0" y="1080.0" font-size="55" font-weight="bold">g</text>
<text x="462.0" y="1084.0" font-size="55" font-weight="bold">h</text>
<text x="914.0" y="1084.0" font-size="55" font-weight="bold">i</text>
</svg>
</body></html>
